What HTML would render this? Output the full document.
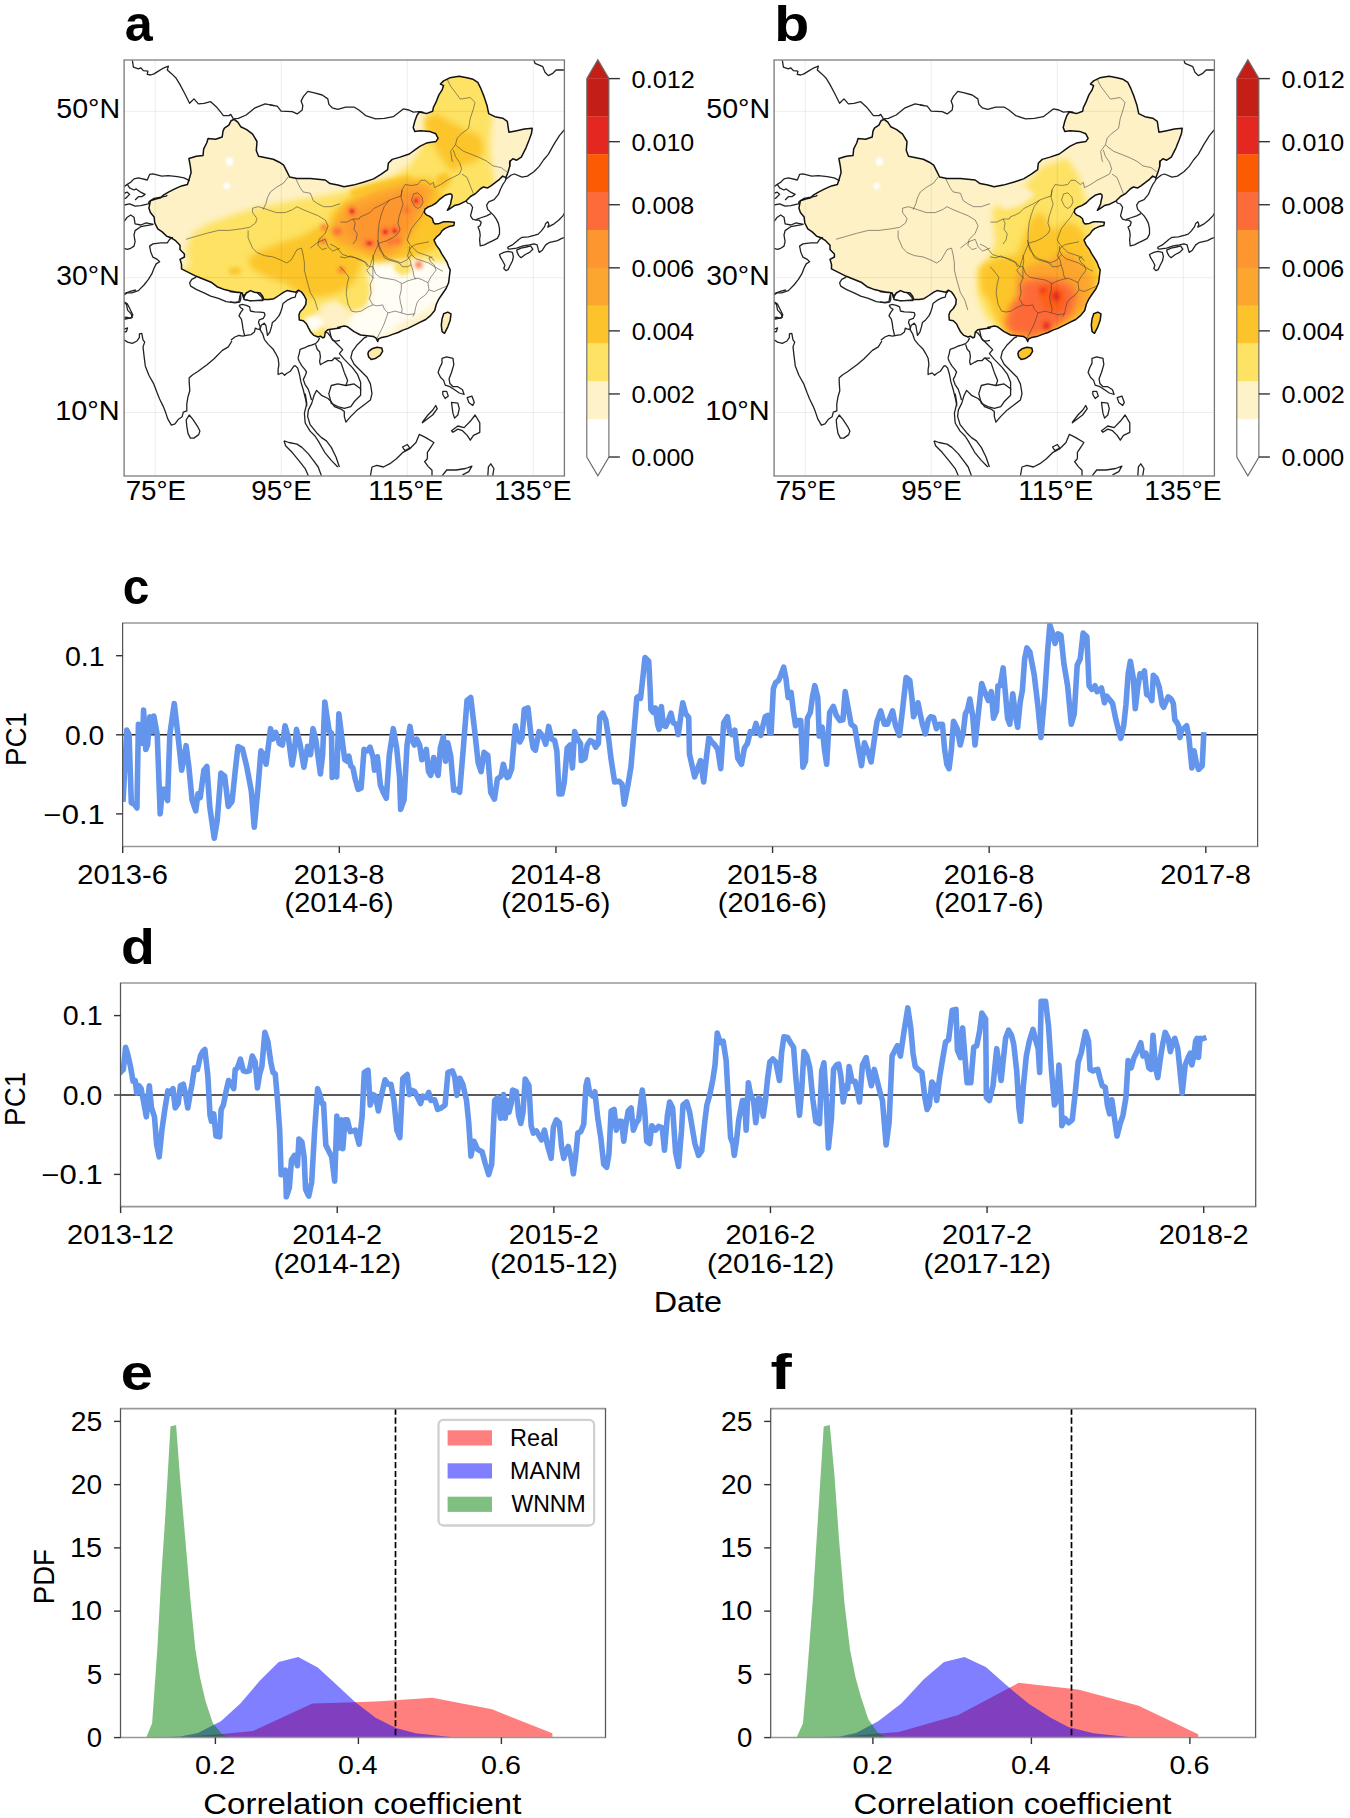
<!DOCTYPE html><html><head><meta charset="utf-8"><style>html,body{margin:0;padding:0;background:#fff}svg{display:block}text{font-family:"Liberation Sans",sans-serif}</style></head><body>
<svg width="1350" height="1818" viewBox="0 0 1350 1818">
<rect width="1350" height="1818" fill="#fff"/>
<defs><filter id="b1" x="-50%" y="-50%" width="200%" height="200%"><feGaussianBlur stdDeviation="1.2"/></filter><filter id="b2" x="-50%" y="-50%" width="200%" height="200%"><feGaussianBlur stdDeviation="2.2"/></filter><filter id="b3" x="-20%" y="-20%" width="140%" height="140%"><feGaussianBlur stdDeviation="3"/></filter></defs>
<text transform="matrix(0.99,0,0,1,124.63,41)" font-size="50.74" font-weight="bold">a</text>
<text transform="matrix(1.14,0,0,1,774.33,41.01)" font-size="50.25" font-weight="bold">b</text>
<text transform="matrix(0.95,0,0,1,122.83,604.11)" font-size="50.38" font-weight="bold">c</text>
<text transform="matrix(1.09,0,0,1,120.92,963.9)" font-size="50.79" font-weight="bold">d</text>
<text transform="matrix(1.14,0,0,1,120.64,1389.7)" font-size="50.74" font-weight="bold">e</text>
<text transform="matrix(1.28,0,0,1,770.51,1389.1)" font-size="49.96" font-weight="bold">f</text>
<g>
<clipPath id="clipa"><rect x="124.1" y="59.9" width="440.3" height="416.1"/></clipPath>
<g clip-path="url(#clipa)">
<clipPath id="chinaa"><path d="M234.1,119.3 L237.8,122.2 L240.7,126.7 L246.7,129.6 L252.6,134.1 L257,141.5 L256.3,150.4 L258.5,156.3 L265.9,157.8 L273.3,159.3 L279.3,162.2 L283.7,165.2 L286.7,171.1 L289.6,177 L297,178.5 L310.4,178.5 L325.2,180 L330,183.6 L337.8,185.1 L344,186.7 L353.3,185.1 L364.2,182 L373.6,178.9 L381.3,174.2 L387.6,169.6 L388.3,163.3 L392.2,159.4 L400,157.1 L409.3,154 L415.6,149.3 L420.2,146.2 L426.4,143.1 L435.8,141.6 L438.1,138.4 L435.8,133.8 L429.6,131.4 L420.2,130.7 L414.8,131.4 L413.2,127.6 L414.8,121.3 L417.1,115.1 L419.4,112 L426.4,113.6 L432.7,111.2 L433.4,107.3 L435.8,102.7 L438.9,94.9 L442,90.2 L443.6,85.6 L440.4,84 L443.6,80.9 L449.8,77.8 L459.1,76.2 L466.9,77.8 L473.1,79.3 L477.8,82.4 L480.9,88.7 L484,96.4 L487.1,105.8 L488.7,113.6 L494.9,116.7 L502.7,118.2 L507.3,121.3 L508.9,132.2 L516.7,130.7 L524.4,129.1 L532.2,128.3 L531.4,133.8 L529.1,140 L526,147.8 L521.3,157.1 L516.7,160.2 L512.8,158.7 L509.7,161.8 L509.7,166.4 L508.1,171.8 L505.9,177.7 L502.7,176.1 L499.5,179.3 L495.2,182.6 L490.9,185.8 L487.7,187.9 L483.4,186.9 L480.2,189 L475.9,193.3 L470.5,196.5 L466.2,200.8 L458.7,204.6 L454.4,205.6 L451.1,207.8 L447.4,210.3 L449,207.3 L450.6,204 L451.1,200.8 L452.2,196.5 L451.7,194.4 L450.1,193.8 L445.8,194.9 L442.6,197.1 L439.3,199.7 L436.1,203 L431.8,205.6 L427.5,207.3 L424.8,209.4 L424.3,212.6 L426.4,214.8 L429.7,216.4 L432.4,218.5 L433.4,222.3 L435,223.9 L439.3,223.4 L443.6,221.8 L449,221.8 L454.4,222.3 L453.8,225.5 L449,226.6 L444.7,228.7 L442,230.9 L439.9,234.1 L437.2,236.3 L434,240 L436.1,244.9 L439.3,249.2 L441.5,253.4 L444.2,257.7 L446.9,262 L448.5,266.3 L450.2,269.8 L449.4,276.3 L448.6,282.8 L446.1,288.5 L442.1,294.2 L438.8,299.1 L436.4,304 L434.7,310.5 L430.7,315.4 L425.8,319.5 L419.3,322.7 L414.4,325.2 L407.9,328.4 L403,330.1 L398.1,332.5 L393.2,334.1 L386.7,336.6 L381.8,337.4 L378.5,339 L377.7,341.5 L376.1,338.2 L373.6,336.6 L367.1,335.8 L360.6,335 L354.1,331.7 L347.6,326.8 L344.3,326 L337.8,327.6 L340,328.1 L332.7,328.9 L327.8,329.7 L325.3,332.1 L324.5,337 L322.9,337.9 L320.4,336.2 L318,337 L313.9,335.4 L310.7,332.1 L308.2,327.3 L306.6,324 L303.3,320.7 L299.3,319.9 L298.9,315 L300.1,311.8 L303.3,308.5 L305.8,304.4 L306.2,299.6 L304.1,295.5 L301.7,292.2 L298.4,290.2 L296,292.2 L291.9,291.4 L287,290.6 L283.8,292.2 L278.9,295.5 L274,298.7 L269.1,299.6 L263.8,299.6 L262.6,296.3 L260.1,293 L254.4,292.2 L250.4,290.6 L246.3,293 L243.4,297.5 L242.2,293 L238.1,292.2 L230,291.4 L237.8,292.6 L230.4,291.1 L224.4,289.6 L217,286.7 L211.1,282.2 L203.7,279.3 L196.3,276.3 L187.4,271.9 L181.5,268.9 L181.5,264.4 L180,259.3 L184.4,257 L184.4,254.1 L180,249.6 L180,245.2 L175.6,240.7 L171.1,237.8 L166.7,236.3 L162.2,231.9 L157.8,228.9 L154.8,223 L154.1,217 L150.4,212.6 L148.9,208.1 L150.4,200.7 L154.8,199.3 L160.7,197.8 L163.7,194.8 L168.9,191.9 L174.8,188.9 L181.5,185.9 L187.4,184.4 L188.9,180 L191.1,172.6 L190.4,166.7 L188.9,158.5 L196.3,156.3 L203,155.6 L203.7,148.9 L206.7,143 L208.1,138.5 L215.6,139.3 L222.2,137 L223,131.1 L224.4,128.1 L228.9,125.2 L231.1,120.7Z M368.7,351.3 L372,348.8 L376.9,347.2 L381.8,348 L382.6,351.3 L380.1,355.3 L375.3,358.6 L371.2,359.4 L368.7,357 L367.9,353.7Z M443.7,313.8 L447.8,312.1 L451,313.8 L450.2,320.3 L447.8,326.8 L444.5,333.3 L442.1,331.7 L441.3,325.2 L442.1,318.7Z"/></clipPath>
<g clip-path="url(#chinaa)"><rect x="124" y="60" width="441" height="416" fill="#fef1c6"/>
<ellipse cx="229.5" cy="161.5" rx="3.6" ry="4.2" fill="#ffffff" filter="url(#b1)"/>
<ellipse cx="226.7" cy="185.9" rx="3.2" ry="3.4" fill="#ffffff" filter="url(#b1)"/>
<path d="M190,266 L186,250 L192,234 L206.7,224.5 L228.9,216.3 L251.1,208.9 L273.3,204.4 L295.6,200 L317.8,197 L340,192.6 L365,185 L390,178 L410,165 L420,150 L425,125 L432,100 L440,55 L495,52 L495,95 L492,120 L490,145 L492,165 L495,185 L480,198 L468,212 L465,240 L465,262 L440,268 L420,262 L400,262 L385,268 L375,285 L368,300 L365,320 L358,348 L320,348 L300,328 L290,315 L270,308 L240,305 L210,300 L175,292 L160,272Z" fill="#fde264" filter="url(#b3)"/>
<path d="M372,262 L395,256 L415,258 L432,262 L450,262 L458,272 L455,290 L440,302 L420,314 L400,324 L385,336 L360,340 L345,338 L342,320 L352,312 L368,306 L372,290 L368,275Z" fill="#fffdf4" filter="url(#b3)"/>
<path d="M320,305 L335,300 L348,305 L350,320 L340,332 L325,330 L318,318Z" fill="#fef1c6" filter="url(#b3)"/>
<path d="M340,290 L360,288 L368,296 L362,306 L348,308 L338,300Z" fill="#fde264" filter="url(#b2)"/>
<path d="M395,262 L410,260 L412,272 L402,276 L394,270Z" fill="#fde264" filter="url(#b2)"/>
<path d="M305,318 L318,314 L325,324 L315,332 L304,328Z" fill="#fffdf4" filter="url(#b2)"/>
<path d="M248,258 L261.5,250.4 L280.7,243 L303,235.6 L317.8,226.7 L340,223.7 L355,225 L360,240 L362,262 L355,280 L345,290 L330,295 L310,298 L295,290 L285,283 L267,277 L251,268Z" fill="#fcc52a" filter="url(#b3)"/>
<path d="M330,215 L345,200 L365,192 L390,185 L410,178 L430,178 L440,188 L446,205 L452,222 L446,240 L432,250 L410,258 L390,262 L370,262 L355,255 L340,245 L330,232Z" fill="#fcc52a" filter="url(#b3)"/>
<path d="M423.7,119.3 L435.6,113.3 L449.8,121.6 L459.3,126.4 L466.4,131.1 L477,133.5 L483,143 L483,152.4 L477,160.7 L466.4,164.3 L459.3,166.7 L453.3,172.6 L447.4,166.7 L439.1,154.8 L433.2,143 L427.3,131.1Z" fill="#fcc52a" filter="url(#b3)"/>
<path d="M436,176 L446,172 L452,180 L444,190 L436,186Z" fill="#fcc52a" filter="url(#b2)"/>
<path d="M350,190 L370,184 L395,178 L410,175 L412,183 L395,188 L370,193 L352,198Z" fill="#fcc52a" filter="url(#b2)"/>
<path d="M229,268 L240,267 L241,274 L230,275Z" fill="#fcc52a" filter="url(#b2)"/>
<path d="M333,224.7 L344,206 L360,198 L380,190 L400,184.7 L413,182 L426.7,184.7 L434.7,190 L426.7,206 L420,219.3 L410.7,235.3 L400,251.3 L386.7,256.7 L373.3,255.3 L360,251.3 L346.7,246 L336,240.7 L330.7,232.7Z" fill="#fca62f" filter="url(#b3)"/>
<path d="M345,225 L355,212 L370,204 L390,196 L410,190 L422,192 L418,208 L410,225 L400,240 L388,248 L372,248 L358,242 L348,235Z" fill="#fd962f" filter="url(#b3)"/>
<ellipse cx="352" cy="211.3" rx="4" ry="5" fill="#fd6b38" filter="url(#b2)"/>
<ellipse cx="337.3" cy="231.3" rx="4.5" ry="3.5" fill="#fd6b38" filter="url(#b2)"/>
<ellipse cx="324" cy="227.3" rx="3" ry="3" fill="#fd6b38" filter="url(#b2)"/>
<ellipse cx="369.3" cy="243.3" rx="6" ry="3.5" fill="#fd6b38" filter="url(#b2)"/>
<ellipse cx="385.3" cy="231.3" rx="5" ry="4" fill="#fd6b38" filter="url(#b2)"/>
<ellipse cx="394.7" cy="230" rx="4" ry="4" fill="#fd6b38" filter="url(#b2)"/>
<ellipse cx="397.3" cy="240.7" rx="4" ry="3" fill="#fd6b38" filter="url(#b2)"/>
<ellipse cx="390.7" cy="242" rx="3" ry="3" fill="#fd6b38" filter="url(#b2)"/>
<ellipse cx="406.7" cy="210" rx="3" ry="3" fill="#fd6b38" filter="url(#b2)"/>
<ellipse cx="417.3" cy="200.7" rx="4" ry="5" fill="#fd6b38" filter="url(#b2)"/>
<ellipse cx="418.7" cy="264.7" rx="3.5" ry="3.5" fill="#fd6b38" filter="url(#b2)"/>
<ellipse cx="341.3" cy="270" rx="3" ry="3" fill="#fd6b38" filter="url(#b2)"/>
<ellipse cx="323" cy="241" rx="3" ry="3" fill="#fd6b38" filter="url(#b2)"/>
<ellipse cx="385.3" cy="232" rx="2" ry="2" fill="#e42821" filter="url(#b1)"/>
<ellipse cx="394.7" cy="231" rx="2" ry="2" fill="#e42821" filter="url(#b1)"/>
<ellipse cx="369.3" cy="243.3" rx="2.2" ry="1.8" fill="#e42821" filter="url(#b1)"/>
<ellipse cx="352" cy="211.3" rx="1.8" ry="2" fill="#e42821" filter="url(#b1)"/>
<ellipse cx="416" cy="200.7" rx="1.8" ry="2" fill="#e42821" filter="url(#b1)"/>
<path d="M441.5,305 L460,305 L460,340 L441.5,340Z" fill="#fdeeb8"/>
<path d="M362,345.5 L390,345.5 L390,365 L362,365Z" fill="#fdeaa8"/></g>
<path d="M340.4,222.1 L346.7,222.1 L353,219 L359.3,219 L360.3,216.9 L365.5,214.8 L369.7,212.7 L373.9,208.5 L378.1,206.4 L384.3,203.3 L389.6,200.1 L394.8,198.1 L401,196 L402.1,189.7 L405.2,184.5 L411.5,185.5 L417.8,184.5 L420.9,180.3 L425.1,180.3 L430.3,184.5 L433.4,182.4 L434.5,187.6 L440.7,184.5 L447,180.3 L453.3,177.2 L459.6,174 L461.6,168.8 L459.6,162.5 L455.4,156.3 L453.3,150" fill="none" stroke="#3a3a3a" stroke-opacity="0.62" stroke-width="0.9"/>
<path d="M353,219 L355.1,223.1 L354,229.4 L357.2,233.6 L356.1,239.9 L353,244" fill="none" stroke="#3a3a3a" stroke-opacity="0.62" stroke-width="0.9"/>
<path d="M389.6,200.1 L384.3,206.4 L381.2,214.8 L379.1,223.1 L378.1,233.6 L378.1,244 L380.1,250.3 L384.3,255.5" fill="none" stroke="#3a3a3a" stroke-opacity="0.62" stroke-width="0.9"/>
<path d="M402.1,189.7 L401,197 L403.1,204.3 L401,210.6 L399,216.9 L397.9,223.1 L400,229.4 L397.9,233.6 L392.7,237.8 L386.4,240.9 L379.1,243" fill="none" stroke="#3a3a3a" stroke-opacity="0.62" stroke-width="0.9"/>
<path d="M411.5,200.1 L413.6,193.9 L417.8,192.8 L421.9,197 L423,202.2 L420.9,206.4 L417.8,208.5 L414.6,206.4 L411.5,200.1" fill="none" stroke="#3a3a3a" stroke-opacity="0.62" stroke-width="0.9"/>
<path d="M424,210.6 L420.9,216.9 L415.7,223.1 L411.5,228.4 L409.4,233.6 L407.3,239.9 L409.4,244 L413.6,248.2 L417.8,252.4 L424,254.5 L430.3,256.6 L434.5,260.7" fill="none" stroke="#3a3a3a" stroke-opacity="0.62" stroke-width="0.9"/>
<path d="M384.3,255.5 L388.5,258.7 L394.8,260.7 L401,262.8 L407.3,259.7 L411.5,254.5 L409.4,250.3 L409.4,246.1" fill="none" stroke="#3a3a3a" stroke-opacity="0.62" stroke-width="0.9"/>
<path d="M379.1,243 L376,249.3 L373.9,254.5 L371.8,260.7 L369.7,267 L366.6,270.1 L369.7,274.3 L373.9,278.5" fill="none" stroke="#3a3a3a" stroke-opacity="0.62" stroke-width="0.9"/>
<path d="M330,244 L336.3,247.2 L342.5,254.5 L348.8,256.6 L355.1,257.6 L361.3,259.7 L365.5,262.8 L367.6,267" fill="none" stroke="#3a3a3a" stroke-opacity="0.62" stroke-width="0.9"/>
<path d="M411.5,254.5 L415.7,258.7 L421.9,260.7 L428.2,262.8 L433.4,266 L438.7,269.1 L442.8,271.2" fill="none" stroke="#3a3a3a" stroke-opacity="0.62" stroke-width="0.9"/>
<path d="M288.1,177 L283.7,183 L276.3,187.4 L270.4,191.9 L267.4,197.8 L265.9,203.7 L263,209.6" fill="none" stroke="#3a3a3a" stroke-opacity="0.62" stroke-width="0.9"/>
<path d="M295.6,178.5 L300,187.4 L303,191.9 L310.4,193.3 L313.3,200.7 L317.8,203.7 L323.7,206.7 L331.1,206.7 L340,203.7" fill="none" stroke="#3a3a3a" stroke-opacity="0.62" stroke-width="0.9"/>
<path d="M185.9,239.3 L196.3,236.3 L206.7,233.3 L218.5,230.4 L228.9,230.4 L240.7,228.9 L249.6,227.4 L255.6,223 L257,218.5 L252.6,212.6 L252.6,208.1 L258.5,206.7 L267.4,209.6 L276.3,212.6 L285.2,212.6 L292.6,209.6 L297,206.7 L303,209.6 L310.4,212.6 L317.8,215.6 L325.2,220 L328.1,225.9 L325.2,233.3 L319.3,239.3 L317.8,245.2 L322.2,249.6 L326.7,248.1" fill="none" stroke="#3a3a3a" stroke-opacity="0.62" stroke-width="0.9"/>
<path d="M248.1,230.4 L248.1,237.8 L252.6,248.1 L257,252.6 L264.4,255.6 L273.3,257 L280.7,260 L286.7,263 L291.1,260 L297,249.6 L301.5,248.1 L303,254.1 L304.4,263 L304.4,270.4 L307.4,282.2 L310.4,292.6 L314.8,300 L317.8,310.1" fill="none" stroke="#3a3a3a" stroke-opacity="0.62" stroke-width="0.9"/>
<path d="M310.4,248.1 L317.8,242.2 L325.2,239.3 L328.1,246.7 L332.6,251.1 L340,248.1" fill="none" stroke="#3a3a3a" stroke-opacity="0.62" stroke-width="0.9"/>
<path d="M447.3,79.6 L450.6,86.1 L455.5,92.6 L460.4,99.1 L470.2,97.5 L475,102.4 L473.4,108.9 L470.2,118.7 L468.5,128.4 L462,133.3 L457.1,138.2 L455.5,144.7 L450.6,151.3 L452.2,161 L453.3,162" fill="none" stroke="#3a3a3a" stroke-opacity="0.62" stroke-width="0.9"/>
<path d="M455.5,144.7 L457.1,146.4 L463.6,151.3 L471.8,154.5 L479.9,157.8 L486.5,161 L493,165.9 L501.1,167.6 L507.6,172.5" fill="none" stroke="#3a3a3a" stroke-opacity="0.62" stroke-width="0.9"/>
<path d="M462,174.1 L466.9,177.3 L470.2,185.5 L473.4,193.6" fill="none" stroke="#3a3a3a" stroke-opacity="0.62" stroke-width="0.9"/>
<path d="M377.3,240 L379.1,245.3 L381.8,251.6 L384.4,257.8 L389.8,260.4 L396.9,262.2 L400.4,264 L402.2,266.7 L407.6,266.7 L411.1,264.9 L410.2,260.4 L407.6,256 L409.3,250.7 L411.1,247.1 L415.6,244.4 L420,243.6 L424.4,242.7 L428.9,241.8" fill="none" stroke="#3a3a3a" stroke-opacity="0.62" stroke-width="0.9"/>
<path d="M411.1,264.9 L412.9,270.2 L413.8,275.6 L415.6,279.1" fill="none" stroke="#3a3a3a" stroke-opacity="0.62" stroke-width="0.9"/>
<path d="M372.9,255.1 L373.8,260.4 L372.9,266.7 L375.6,273.8 L380,277.3 L384.4,278.2 L389.8,279.1 L395.1,280 L398.7,281.8 L402.2,283.6 L407.6,280.9 L413.8,279.1 L418.2,278.2 L422.7,280 L428,282.7" fill="none" stroke="#3a3a3a" stroke-opacity="0.62" stroke-width="0.9"/>
<path d="M401.3,283.6 L401.3,289.8 L399.6,296.9 L400.4,302.2 L402.2,309.3 L401.3,312.9" fill="none" stroke="#3a3a3a" stroke-opacity="0.62" stroke-width="0.9"/>
<path d="M428,282.7 L428.9,289.8 L425.3,295.1 L420,298.7 L417.3,302.2 L415.6,307.6 L414.7,312.9 L412.9,316.4" fill="none" stroke="#3a3a3a" stroke-opacity="0.62" stroke-width="0.9"/>
<path d="M428.9,289.8 L434.2,291.6 L437.8,289.8 L442.2,288 L446.7,286.2" fill="none" stroke="#3a3a3a" stroke-opacity="0.62" stroke-width="0.9"/>
<path d="M428,282.7 L430.7,277.3 L433.3,273.8 L436,270.2 L434.2,264.9 L430.7,262.2 L428.9,257.8 L432.4,256.9" fill="none" stroke="#3a3a3a" stroke-opacity="0.62" stroke-width="0.9"/>
<path d="M372.9,304.9 L377.3,305.8 L382.7,304.9 L384.4,309.3 L388,312.9 L391.6,312 L395.1,311.1 L401.3,312.9 L407.6,314.7 L414.7,313.8" fill="none" stroke="#3a3a3a" stroke-opacity="0.62" stroke-width="0.9"/>
<path d="M388,312.9 L386.2,318.2 L383.6,325.3 L380.9,330.7 L378.2,336 L376.4,340" fill="none" stroke="#3a3a3a" stroke-opacity="0.62" stroke-width="0.9"/>
<path d="M372.9,278.2 L370.2,284.4 L371.1,293.3 L369.3,298.7 L372.9,304.9" fill="none" stroke="#3a3a3a" stroke-opacity="0.62" stroke-width="0.9"/>
<path d="M372.9,304.9 L366.7,307.6 L361.3,311.1 L356,312 L351.6,311.1" fill="none" stroke="#3a3a3a" stroke-opacity="0.62" stroke-width="0.9"/>
<path d="M340,256.9 L345.3,257.8 L350.7,256 L355.1,257.8 L360.4,260.4 L365.8,262.2 L369.3,266.7 L372.9,266.7 L372.9,278.2" fill="none" stroke="#3a3a3a" stroke-opacity="0.62" stroke-width="0.9"/>
<path d="M351.6,311.1 L348,304 L346.2,293.3 L347.1,284.4 L348.9,277.3 L346.2,273.8 L342.7,269.3 L340,266.7" fill="none" stroke="#3a3a3a" stroke-opacity="0.62" stroke-width="0.9"/>
<path d="M132.3,60 L133.4,67.2 L138.4,68.9 L140.7,67.8 L143.4,70.6 L147.9,71.1 L147.3,74.4 L150.7,75 L154,73.9 L158.4,71.1 L164,67.8 L168.4,66.1 L167.3,70 L171.8,73.9 L176.2,78.3 L179.6,83.9 L184.6,93.3 L189.6,103.3 L194,98.9 L198.4,103.9 L204,103.3 L210.7,101.7 L216.2,106.7 L220.7,112.2 L223.4,115.6 L229,115.6 L230.7,114.4 L233.4,118.9" fill="none" stroke="#222" stroke-width="1.3" stroke-linejoin="round"/>
<path d="M234,118.9 L238.4,118.3 L246.2,115 L255.1,107.8 L265.1,103.9 L274,105.6" fill="none" stroke="#222" stroke-width="1.3" stroke-linejoin="round"/>
<path d="M189.6,180.6 L184,177.8 L177.3,176.7 L168.4,175.6 L161.8,176.1 L152.9,173.9 L149.6,174.4 L147.3,180 L138.4,177.8 L134,178.9 L130.7,182.2 L127.3,184.4 L124,186.7" fill="none" stroke="#222" stroke-width="1.3" stroke-linejoin="round"/>
<path d="M127.3,184.4 L129.6,187.8 L134,190 L136.2,188.9 L140.7,192.2 L145.1,194.4 L141.8,196.7 L138.4,196.7 L135.1,200" fill="none" stroke="#222" stroke-width="1.3" stroke-linejoin="round"/>
<path d="M124,193.3 L127.3,192.2 L129.6,194.4 L126.2,197.8 L124,198.9" fill="none" stroke="#222" stroke-width="1.3" stroke-linejoin="round"/>
<path d="M270,105 L277.2,106.1 L281.1,111.1 L292.2,111.7 L297.2,113.9 L302.2,110 L302.8,105.6 L301.1,101.1 L303.3,96.7 L307.8,91.3 L314.4,92.8 L322.2,95 L327.8,98.9 L328.9,104.4 L332.2,107.8 L337.8,109.4 L345.6,107.2 L354.4,107.2 L358.9,110 L365.6,115.6 L375.6,118.9 L384.4,118.3 L393.3,116.7 L397.8,113.3 L403.3,108.9 L408.9,110 L413.3,112.2 L418.9,111.7 L423.3,112.2" fill="none" stroke="#222" stroke-width="1.3" stroke-linejoin="round"/>
<path d="M533.9,60 L535,63.3 L542.8,66.7 L545,72.2 L548.3,75.6 L552.8,73.3 L556.1,70 L563.9,70" fill="none" stroke="#222" stroke-width="1.3" stroke-linejoin="round"/>
<path d="M124,205 L129.6,203.9 L135.1,206.1 L140.7,205.6 L148.4,203.9 L149,201.7 L154,198.3 L160.7,197.2 L166.2,196.1 L167.3,195" fill="none" stroke="#222" stroke-width="1.3" stroke-linejoin="round"/>
<path d="M124,221.7 L127.3,217.2 L130.7,215 L134,217.2 L135.1,223.9 L140.7,225 L146.2,222.8 L153.4,224.4" fill="none" stroke="#222" stroke-width="1.3" stroke-linejoin="round"/>
<path d="M153.4,224.4 L140.7,226.7 L135.1,230.6 L134,235 L135.1,241.7 L134,246.1 L130.7,248.3 L127.3,249.4 L124,248.3" fill="none" stroke="#222" stroke-width="1.3" stroke-linejoin="round"/>
<path d="M172.9,237.2 L169.6,239.4 L167.3,242.8 L160.7,242.8 L152.9,243.9 L149.6,246.1 L150.7,251.7 L152.9,257.2 L157.3,259.4 L159.6,261.7 L156.2,263.9 L154,268.3 L151.8,273.9 L148.4,279.4 L144,285 L138.4,290.6 L131.8,292.8 L127.3,292.8 L124,295" fill="none" stroke="#222" stroke-width="1.3" stroke-linejoin="round"/>
<path d="M124,301.7 L127.3,303.9 L129.6,308.3 L132.9,315 L130.7,318.3 L126.2,317.2 L124,318.3" fill="none" stroke="#222" stroke-width="1.3" stroke-linejoin="round"/>
<path d="M196.2,277.2 L191.8,279.4 L189.6,282.8 L190.7,286.1 L196.2,289.4 L204,292.8 L210.7,296.1 L218.4,298.3 L226.2,301.7 L235.1,302.8 L239.6,302.2 L240.7,299.4 L240.7,292.8" fill="none" stroke="#222" stroke-width="1.3" stroke-linejoin="round"/>
<path d="M244,293.9 L244,299.4 L249.6,300.6 L262.9,300.6 L261.8,297.2 L257.3,292.8" fill="none" stroke="#222" stroke-width="1.3" stroke-linejoin="round"/>
<path d="M124,339.8 L127.6,342.1 L132.3,343.3 L137,341 L139.4,337.4 L139.4,333.9 L141.8,333.3 L143,339.8 L144.7,342.1 L143,346.9 L144.1,356.4 L145.3,365.9 L148.9,375.3 L153.6,383.6 L157.2,393.1 L159.6,399 L163.1,406.1 L165.5,412.1 L167.9,419.2 L171.4,425.1 L175,423.9 L178.5,419.2 L182.1,416.8 L183.3,412.1 L186.8,410.9 L186.8,403.8 L188,396.7 L189.8,390.7 L189.2,382.4 L189.2,377.7 L192.7,374.7 L197.5,371.8 L202.2,368.2 L207,364.7 L214.1,358.7 L222.4,350.4 L228.3,346.9 L231.9,341" fill="none" stroke="#222" stroke-width="1.3" stroke-linejoin="round"/>
<path d="M189.2,415 L192.7,419.2 L197.5,426.3 L199.9,431 L198.7,434.6 L193.9,438.1 L190.4,438.1 L188,433.4 L186.8,426.3 L186.2,419.8Z" fill="none" stroke="#222" stroke-width="1.3" stroke-linejoin="round"/>
<path d="M124,293.6 L127.6,292.4 L131.1,291.2 L135.9,290" fill="none" stroke="#222" stroke-width="1.3" stroke-linejoin="round"/>
<path d="M124,303 L126.4,304.2 L127.6,310.1 L131.1,313.7 L132.3,317.3 L128.7,318.4 L125.2,319 L124,319" fill="none" stroke="#222" stroke-width="1.3" stroke-linejoin="round"/>
<path d="M124,329.1 L127.6,327.9 L126.4,331.5 L124,332.1" fill="none" stroke="#222" stroke-width="1.3" stroke-linejoin="round"/>
<path d="M367.1,336.6 L363.9,338.2 L357.3,344.7 L352.4,351.3 L350.8,357.8 L354.1,364.3 L360.6,370.8 L367.1,377.3 L370.4,383.9 L372,393.6 L370.4,400.1 L363.9,405 L357.3,409.9 L350.8,416.4 L345.9,422.1 L344.3,416.4 L344.3,411.6 L341,409.1 L334.5,406.7 L331.3,401.8 L328,398.5 L321.5,395.3 L316.6,390.4 L314.1,395.3 L311.7,403.4 L308.4,409.9 L307.6,416.4 L310.1,424.6 L316.6,432.7 L321.5,437.6 L326.4,440.9 L331.3,447.4 L336.1,457.2 L339.4,467" fill="none" stroke="#222" stroke-width="1.3" stroke-linejoin="round"/>
<path d="M329.6,330.1 L331.3,338.2 L337.8,344.7 L342.7,349.6 L339.4,353.7 L344.3,359.4 L352.4,367.6 L357.3,374.1 L360.6,382.2 L360.6,390.4" fill="none" stroke="#222" stroke-width="1.3" stroke-linejoin="round"/>
<path d="M331.3,385.5 L337.8,383.9 L345.9,385.5 L354.1,383.9 L360.6,388.7 L360.6,395.3 L354.1,401.8 L350.8,406.7 L344.3,408.3 L337.8,406.7 L331.3,403.4 L328.8,393.6Z" fill="none" stroke="#222" stroke-width="1.3" stroke-linejoin="round"/>
<path d="M284,440.9 L288.9,442.5 L297,444.1 L301.9,447.4 L308.4,453.9 L313.3,460.4 L318.2,467 L321.5,475.9" fill="none" stroke="#222" stroke-width="1.3" stroke-linejoin="round"/>
<path d="M284,440.9 L285.6,445.8 L292.1,452.3 L298.7,460.4 L305.2,468.6 L308.4,475.9" fill="none" stroke="#222" stroke-width="1.3" stroke-linejoin="round"/>
<path d="M305.2,393.6 L306.8,403.4 L304.4,413.2 L305.2,423 L310.1,431.1 L315,436 L318.2,440.9 L324.7,452.3 L331.3,460.4 L337.8,467" fill="none" stroke="#222" stroke-width="1.3" stroke-linejoin="round"/>
<path d="M334.5,357.8 L341,362.7 L344.3,372.4 L347.6,380.6 L345.9,385.5" fill="none" stroke="#222" stroke-width="1.3" stroke-linejoin="round"/>
<path d="M370.4,475.9 L372,467 L376.9,465.3 L383.4,467 L389.9,463.7 L396.4,458.8 L403,452.3 L409.5,449 L416,442.5 L419.3,434.4 L425.8,437.6 L433.9,442.5 L430.7,447.4 L427.4,452.3 L427.4,458.8" fill="none" stroke="#222" stroke-width="1.3" stroke-linejoin="round"/>
<path d="M427.4,458.8 L424.6,461.7 L428.3,466.6 L432,470.3 L432,478" fill="none" stroke="#222" stroke-width="1.3" stroke-linejoin="round"/>
<path d="M402.5,447 L407.4,444.5 L409.8,448.2 L404.9,450.7Z" fill="none" stroke="#222" stroke-width="1.3" stroke-linejoin="round"/>
<path d="M442,358.3 L446.7,356.8 L453,358.3 L453.8,364.6 L451.5,372.5 L449.1,378.8 L449.9,383.5 L453,386.7 L457.8,386.7 L462.5,389.8 L464.1,394.5 L459.3,393 L454.6,389.8 L449.9,386.7 L445.2,385.1 L443.6,380.4 L440.5,377.2 L438.1,372.5 L439.7,367.8 L442,363.1Z" fill="none" stroke="#222" stroke-width="1.3" stroke-linejoin="round"/>
<path d="M442.8,391.4 L446.7,391.4 L448.3,396.1 L445.2,398.5 L442.8,394.5Z" fill="none" stroke="#222" stroke-width="1.3" stroke-linejoin="round"/>
<path d="M467.2,397.7 L471.9,396.1 L474.3,402.4 L472.7,405.5 L468.8,402.4Z" fill="none" stroke="#222" stroke-width="1.3" stroke-linejoin="round"/>
<path d="M451.5,402.4 L457.8,403.2 L459.3,408.7 L457.8,415 L454.6,418.1 L453,413.4 L452.3,408.7Z" fill="none" stroke="#222" stroke-width="1.3" stroke-linejoin="round"/>
<path d="M451.5,430.7 L457.8,426 L464.1,427.6 L470.3,421.3 L475.1,415 L479.8,422.8 L479.8,432.3 L473.5,435.4 L470.3,440.2 L467.2,435.4 L462.5,430.7 L457.8,429.1 L453,432.3Z" fill="none" stroke="#222" stroke-width="1.3" stroke-linejoin="round"/>
<path d="M422.4,422.1 L427.9,415 L432.6,410.3 L435.7,405.5 L437.3,408.7 L432.6,415 L426.3,419.7 L422.4,422.8Z" fill="none" stroke="#222" stroke-width="1.3" stroke-linejoin="round"/>
<path d="M440.5,477.9 L446.7,470 L456.2,470 L465.6,468.5 L471.9,466.1 L468.8,471.6 L462.5,474.8" fill="none" stroke="#222" stroke-width="1.3" stroke-linejoin="round"/>
<path d="M487.7,477.9 L488.4,466.9 L490.8,463.8 L493.9,468.5 L492.4,477.9" fill="none" stroke="#222" stroke-width="1.3" stroke-linejoin="round"/>
<path d="M243.4,297.5 L244.3,299.6 L250.4,300.8 L256.9,300.4 L263.4,300" fill="none" stroke="#222" stroke-width="1.3" stroke-linejoin="round"/>
<path d="M230,302 L234.9,302.4 L239,301.6 L239.8,296.3 L241,293 L242.2,293" fill="none" stroke="#222" stroke-width="1.3" stroke-linejoin="round"/>
<path d="M239,305.3 L242.2,304.4 L246.3,305.3 L249.6,306.9 L250.4,311 L254.4,311.8 L260.1,312.2 L264.2,312.6 L265,315 L263.4,318.3 L259.3,319.9 L258.5,322.4 L260.1,326.4 L260.1,329.7" fill="none" stroke="#222" stroke-width="1.3" stroke-linejoin="round"/>
<path d="M239,305.3 L240.6,307.7 L243,309.3 L240.6,312.6 L239,315.9 L241.4,319.1 L242.2,323.2 L243,328.9 L244.7,336.2" fill="none" stroke="#222" stroke-width="1.3" stroke-linejoin="round"/>
<path d="M230.8,340.3 L234.9,337 L239,335.4 L242.2,336.2 L246.3,335.4 L251.2,334.6 L254.4,332.1 L255.3,328.1 L256.9,328.9 L260.1,329.7 L262.6,333.8 L264.2,338.7 L265,340.3 L268.3,344.4 L273.2,349.3 L275.6,353.3 L278.1,358.2 L278.9,364.7 L278.1,369.6 L278.1,374.5 L282.1,372.9 L284.6,375.3 L286.2,373.7 L290.3,371.3 L293.6,366.4 L295.2,365.6 L297.6,368 L299.3,373.7 L300.9,381.9 L303.3,390 L305.8,400 L306.8,406.3" fill="none" stroke="#222" stroke-width="1.3" stroke-linejoin="round"/>
<path d="M260.1,329.7 L261,325.6 L264.2,323.2 L265.9,325.6 L266.7,330.5 L267.5,335.4 L269.9,332.1 L271.6,326.4 L272.4,322.4 L275.6,319.9 L278.9,315.9 L280.5,312.6 L282.1,307.7 L283,303.6 L287,300.4 L291.9,297.9 L295.2,297.1 L296,293.9 L298.4,290.6" fill="none" stroke="#222" stroke-width="1.3" stroke-linejoin="round"/>
<path d="M298,358.2 L299.3,361.5 L301.7,365.6 L305,369.6 L306.6,372.1 L305,376.1 L303.3,379.4 L305,384.3 L308.2,389.2 L309.9,394.1 L311.5,400" fill="none" stroke="#222" stroke-width="1.3" stroke-linejoin="round"/>
<path d="M298,358.2 L299.3,353.3 L300.1,349.3 L305,347.6 L308.2,346 L311.5,345.2 L315.6,343.6 L318,341.1 L319.6,337.9" fill="none" stroke="#222" stroke-width="1.3" stroke-linejoin="round"/>
<path d="M315.6,344.4 L317.2,349.3 L319.6,351.7 L320.4,356.6 L319.6,361.5 L320.4,364.7 L324.5,362.3 L327.8,360.7 L331.9,360.7 L334.3,358.2 L340,358.2" fill="none" stroke="#222" stroke-width="1.3" stroke-linejoin="round"/>
<path d="M325.3,332.1 L327.8,333 L331,337 L332.7,340.3 L335.9,341.1 L340,340.3" fill="none" stroke="#222" stroke-width="1.3" stroke-linejoin="round"/>
<path d="M510.2,160 L509.7,166.4" fill="none" stroke="#222" stroke-width="1.3" stroke-linejoin="round"/>
<path d="M505.9,179.3 L511.3,175 L514.5,174 L522,177.2 L527.4,176.1 L533.9,171.8 L539.2,166.4 L543.5,160 L548.3,154.4 L553.9,144.4 L559.4,135.6 L565,128.9" fill="none" stroke="#222" stroke-width="1.3" stroke-linejoin="round"/>
<path d="M466.2,200.8 L467.3,203 L470.5,204 L472.6,207.3 L471.6,211.6 L470.5,215.9 L472.6,219.1 L475.9,220.2 L479.1,220.2 L481.2,222.3 L480.2,225.5 L478,227.1 L479.6,230.9 L480.2,235.2 L479.6,239.5 L480.2,245.9 L484.4,244.9 L488.7,242.7 L493,240.6 L497.3,238.4 L499.5,234.1 L499.5,228.7 L498.4,223.4 L496.3,219.1 L494.1,215.9 L490.9,212.6 L487.7,209.4 L486.6,205.1 L488.7,201.9 L494.1,199.7 L498.4,194.4 L500.6,189 L502.7,184.7 L504.9,181.5 L505.9,179.3 L505.9,177.7" fill="none" stroke="#222" stroke-width="1.3" stroke-linejoin="round"/>
<path d="M475.9,219.6 L480.2,218 L486.6,215.9 L490.9,213.7" fill="none" stroke="#222" stroke-width="1.3" stroke-linejoin="round"/>
<path d="M507.5,248.1 L508.1,247 L512.4,244.9 L518.8,239.5 L522,237.3 L528.5,236.8 L534.9,235.2 L538.2,234.1 L541.4,230.9 L544.6,226.6 L545.7,223.4 L547.8,221.8 L548.9,224.4 L547.8,227.1 L553.2,224.4 L558.6,220.2 L562.9,215.9 L566,210.6" fill="none" stroke="#222" stroke-width="1.3" stroke-linejoin="round"/>
<path d="M507.5,248.1 L509.2,249.2 L516.7,248.1 L523.1,245.9 L529.6,244.9 L533.9,243.8 L537.1,244.9 L538.2,249.2 L539.2,252.4 L542.4,250.2 L545.7,244.9 L548.9,242.7 L553.2,241.6 L557.5,240.6 L561.8,238.4 L566,237.1" fill="none" stroke="#222" stroke-width="1.3" stroke-linejoin="round"/>
<path d="M516.7,250.2 L521,248.1 L526.3,247 L530.6,245.9 L532.8,249.2 L529.6,252.4 L525.3,254.5 L521,257.7 L518.8,255.6 L517.2,252.4Z" fill="none" stroke="#222" stroke-width="1.3" stroke-linejoin="round"/>
<path d="M499.5,254.5 L503.8,252.4 L508.1,251.3 L512.4,252.4 L513.4,256.7 L512.4,261 L510.2,265.3 L508.1,269.6 L505.9,270.6 L503.8,268.5 L504.9,265.3 L502.7,261 L500.6,257.7Z" fill="none" stroke="#222" stroke-width="1.3" stroke-linejoin="round"/>
<path d="M234.1,119.3 L237.8,122.2 L240.7,126.7 L246.7,129.6 L252.6,134.1 L257,141.5 L256.3,150.4 L258.5,156.3 L265.9,157.8 L273.3,159.3 L279.3,162.2 L283.7,165.2 L286.7,171.1 L289.6,177 L297,178.5 L310.4,178.5 L325.2,180 L330,183.6 L337.8,185.1 L344,186.7 L353.3,185.1 L364.2,182 L373.6,178.9 L381.3,174.2 L387.6,169.6 L388.3,163.3 L392.2,159.4 L400,157.1 L409.3,154 L415.6,149.3 L420.2,146.2 L426.4,143.1 L435.8,141.6 L438.1,138.4 L435.8,133.8 L429.6,131.4 L420.2,130.7 L414.8,131.4 L413.2,127.6 L414.8,121.3 L417.1,115.1 L419.4,112 L426.4,113.6 L432.7,111.2 L433.4,107.3 L435.8,102.7 L438.9,94.9 L442,90.2 L443.6,85.6 L440.4,84 L443.6,80.9 L449.8,77.8 L459.1,76.2 L466.9,77.8 L473.1,79.3 L477.8,82.4 L480.9,88.7 L484,96.4 L487.1,105.8 L488.7,113.6 L494.9,116.7 L502.7,118.2 L507.3,121.3 L508.9,132.2 L516.7,130.7 L524.4,129.1 L532.2,128.3 L531.4,133.8 L529.1,140 L526,147.8 L521.3,157.1 L516.7,160.2 L512.8,158.7 L509.7,161.8 L509.7,166.4 L508.1,171.8 L505.9,177.7 L502.7,176.1 L499.5,179.3 L495.2,182.6 L490.9,185.8 L487.7,187.9 L483.4,186.9 L480.2,189 L475.9,193.3 L470.5,196.5 L466.2,200.8 L458.7,204.6 L454.4,205.6 L451.1,207.8 L447.4,210.3 L449,207.3 L450.6,204 L451.1,200.8 L452.2,196.5 L451.7,194.4 L450.1,193.8 L445.8,194.9 L442.6,197.1 L439.3,199.7 L436.1,203 L431.8,205.6 L427.5,207.3 L424.8,209.4 L424.3,212.6 L426.4,214.8 L429.7,216.4 L432.4,218.5 L433.4,222.3 L435,223.9 L439.3,223.4 L443.6,221.8 L449,221.8 L454.4,222.3 L453.8,225.5 L449,226.6 L444.7,228.7 L442,230.9 L439.9,234.1 L437.2,236.3 L434,240 L436.1,244.9 L439.3,249.2 L441.5,253.4 L444.2,257.7 L446.9,262 L448.5,266.3 L450.2,269.8 L449.4,276.3 L448.6,282.8 L446.1,288.5 L442.1,294.2 L438.8,299.1 L436.4,304 L434.7,310.5 L430.7,315.4 L425.8,319.5 L419.3,322.7 L414.4,325.2 L407.9,328.4 L403,330.1 L398.1,332.5 L393.2,334.1 L386.7,336.6 L381.8,337.4 L378.5,339 L377.7,341.5 L376.1,338.2 L373.6,336.6 L367.1,335.8 L360.6,335 L354.1,331.7 L347.6,326.8 L344.3,326 L337.8,327.6 L340,328.1 L332.7,328.9 L327.8,329.7 L325.3,332.1 L324.5,337 L322.9,337.9 L320.4,336.2 L318,337 L313.9,335.4 L310.7,332.1 L308.2,327.3 L306.6,324 L303.3,320.7 L299.3,319.9 L298.9,315 L300.1,311.8 L303.3,308.5 L305.8,304.4 L306.2,299.6 L304.1,295.5 L301.7,292.2 L298.4,290.2 L296,292.2 L291.9,291.4 L287,290.6 L283.8,292.2 L278.9,295.5 L274,298.7 L269.1,299.6 L263.8,299.6 L262.6,296.3 L260.1,293 L254.4,292.2 L250.4,290.6 L246.3,293 L243.4,297.5 L242.2,293 L238.1,292.2 L230,291.4 L237.8,292.6 L230.4,291.1 L224.4,289.6 L217,286.7 L211.1,282.2 L203.7,279.3 L196.3,276.3 L187.4,271.9 L181.5,268.9 L181.5,264.4 L180,259.3 L184.4,257 L184.4,254.1 L180,249.6 L180,245.2 L175.6,240.7 L171.1,237.8 L166.7,236.3 L162.2,231.9 L157.8,228.9 L154.8,223 L154.1,217 L150.4,212.6 L148.9,208.1 L150.4,200.7 L154.8,199.3 L160.7,197.8 L163.7,194.8 L168.9,191.9 L174.8,188.9 L181.5,185.9 L187.4,184.4 L188.9,180 L191.1,172.6 L190.4,166.7 L188.9,158.5 L196.3,156.3 L203,155.6 L203.7,148.9 L206.7,143 L208.1,138.5 L215.6,139.3 L222.2,137 L223,131.1 L224.4,128.1 L228.9,125.2 L231.1,120.7Z" fill="none" stroke="#111" stroke-width="1.5" stroke-linejoin="round"/>
<path d="M368.7,351.3 L372,348.8 L376.9,347.2 L381.8,348 L382.6,351.3 L380.1,355.3 L375.3,358.6 L371.2,359.4 L368.7,357 L367.9,353.7Z" fill="none" stroke="#111" stroke-width="1.5" stroke-linejoin="round"/>
<path d="M443.7,313.8 L447.8,312.1 L451,313.8 L450.2,320.3 L447.8,326.8 L444.5,333.3 L442.1,331.7 L441.3,325.2 L442.1,318.7Z" fill="none" stroke="#111" stroke-width="1.5" stroke-linejoin="round"/>
<line x1="155.2" y1="59.9" x2="155.2" y2="476" stroke="#000" stroke-opacity="0.07" stroke-width="1"/>
<line x1="281.2" y1="59.9" x2="281.2" y2="476" stroke="#000" stroke-opacity="0.07" stroke-width="1"/>
<line x1="407.2" y1="59.9" x2="407.2" y2="476" stroke="#000" stroke-opacity="0.07" stroke-width="1"/>
<line x1="533.2" y1="59.9" x2="533.2" y2="476" stroke="#000" stroke-opacity="0.07" stroke-width="1"/>
<line x1="124.1" y1="111.3" x2="564.4" y2="111.3" stroke="#000" stroke-opacity="0.07" stroke-width="1"/>
<line x1="124.1" y1="277.7" x2="564.4" y2="277.7" stroke="#000" stroke-opacity="0.07" stroke-width="1"/>
<line x1="124.1" y1="412.5" x2="564.4" y2="412.5" stroke="#000" stroke-opacity="0.07" stroke-width="1"/>
</g>
<line x1="123.45" y1="59.9" x2="565.05" y2="59.9" stroke="#8f8f8f" stroke-width="1.5"/>
<line x1="123.45" y1="476" x2="565.05" y2="476" stroke="#8f8f8f" stroke-width="1.5"/>
<line x1="124.1" y1="59.9" x2="124.1" y2="476" stroke="#777" stroke-width="1.3"/>
<line x1="564.4" y1="59.9" x2="564.4" y2="476" stroke="#777" stroke-width="1.3"/>
</g>
<text transform="matrix(1.07,0,0,1,56.26,118.3)" font-size="26.74">50°N</text>
<text transform="matrix(1.06,0,0,1,56.32,285.3)" font-size="26.74">30°N</text>
<text transform="matrix(1.08,0,0,1,55.19,420.2)" font-size="26.74">10°N</text>
<text transform="matrix(1.02,0,0,1,125.67,499.9)" font-size="27.18">75°E</text>
<text transform="matrix(1.02,0,0,1,251.29,499.9)" font-size="27.18">95°E</text>
<text transform="matrix(1.04,0,0,1,368.25,499.9)" font-size="27.18">115°E</text>
<text transform="matrix(1.04,0,0,1,494.35,499.9)" font-size="27.18">135°E</text>
<rect x="586.8" y="78.5" width="22.1" height="38.15" fill="#c41f16"/>
<rect x="586.8" y="116.35" width="22.1" height="38.15" fill="#e42821"/>
<rect x="586.8" y="154.2" width="22.1" height="38.15" fill="#fd5a04"/>
<rect x="586.8" y="192.05" width="22.1" height="38.15" fill="#fd6b38"/>
<rect x="586.8" y="229.9" width="22.1" height="38.15" fill="#fd962f"/>
<rect x="586.8" y="267.75" width="22.1" height="38.15" fill="#fca62f"/>
<rect x="586.8" y="305.6" width="22.1" height="38.15" fill="#fcc42a"/>
<rect x="586.8" y="343.45" width="22.1" height="38.15" fill="#fde264"/>
<rect x="586.8" y="381.3" width="22.1" height="38.15" fill="#fef2c9"/>
<rect x="586.8" y="419.15" width="22.1" height="38.15" fill="#ffffff"/>
<path d="M586.8,78.8 L597.85,59.7 L608.9,78.8 Z" fill="#c41f16"/>
<path d="M586.8,78.5 L597.85,59.7 L608.9,78.5 L608.9,457 L597.85,475.8 L586.8,457 Z" fill="none" stroke="#6a6a6a" stroke-width="1.1"/>
<line x1="608.9" y1="78.6" x2="619.9" y2="78.6" stroke="#333" stroke-width="1.4"/>
<text transform="matrix(1.06,0,0,1,631.62,87.6)" font-size="23.84">0.012</text>
<line x1="608.9" y1="141.67" x2="619.9" y2="141.67" stroke="#333" stroke-width="1.4"/>
<text transform="matrix(1.05,0,0,1,631.62,150.67)" font-size="23.84">0.010</text>
<line x1="608.9" y1="204.74" x2="619.9" y2="204.74" stroke="#333" stroke-width="1.4"/>
<text transform="matrix(1.05,0,0,1,631.62,213.74)" font-size="23.84">0.008</text>
<line x1="608.9" y1="267.81" x2="619.9" y2="267.81" stroke="#333" stroke-width="1.4"/>
<text transform="matrix(1.05,0,0,1,631.62,276.81)" font-size="23.84">0.006</text>
<line x1="608.9" y1="330.88" x2="619.9" y2="330.88" stroke="#333" stroke-width="1.4"/>
<text transform="matrix(1.05,0,0,1,631.63,339.88)" font-size="23.84">0.004</text>
<line x1="608.9" y1="393.95" x2="619.9" y2="393.95" stroke="#333" stroke-width="1.4"/>
<text transform="matrix(1.06,0,0,1,631.62,402.95)" font-size="23.84">0.002</text>
<line x1="608.9" y1="457.02" x2="619.9" y2="457.02" stroke="#333" stroke-width="1.4"/>
<text transform="matrix(1.05,0,0,1,631.62,466.02)" font-size="23.84">0.000</text>
<g>
<clipPath id="clipb"><rect x="774.1" y="59.9" width="440.3" height="416.1"/></clipPath>
<g clip-path="url(#clipb)">
<clipPath id="chinab"><path d="M884.1,119.3 L887.8,122.2 L890.7,126.7 L896.7,129.6 L902.6,134.1 L907,141.5 L906.3,150.4 L908.5,156.3 L915.9,157.8 L923.3,159.3 L929.3,162.2 L933.7,165.2 L936.7,171.1 L939.6,177 L947,178.5 L960.4,178.5 L975.2,180 L980,183.6 L987.8,185.1 L994,186.7 L1003.3,185.1 L1014.2,182 L1023.6,178.9 L1031.3,174.2 L1037.6,169.6 L1038.3,163.3 L1042.2,159.4 L1050,157.1 L1059.3,154 L1065.6,149.3 L1070.2,146.2 L1076.4,143.1 L1085.8,141.6 L1088.1,138.4 L1085.8,133.8 L1079.6,131.4 L1070.2,130.7 L1064.8,131.4 L1063.2,127.6 L1064.8,121.3 L1067.1,115.1 L1069.4,112 L1076.4,113.6 L1082.7,111.2 L1083.4,107.3 L1085.8,102.7 L1088.9,94.9 L1092,90.2 L1093.6,85.6 L1090.4,84 L1093.6,80.9 L1099.8,77.8 L1109.1,76.2 L1116.9,77.8 L1123.1,79.3 L1127.8,82.4 L1130.9,88.7 L1134,96.4 L1137.1,105.8 L1138.7,113.6 L1144.9,116.7 L1152.7,118.2 L1157.3,121.3 L1158.9,132.2 L1166.7,130.7 L1174.4,129.1 L1182.2,128.3 L1181.4,133.8 L1179.1,140 L1176,147.8 L1171.3,157.1 L1166.7,160.2 L1162.8,158.7 L1159.7,161.8 L1159.7,166.4 L1158.1,171.8 L1155.9,177.7 L1152.7,176.1 L1149.5,179.3 L1145.2,182.6 L1140.9,185.8 L1137.7,187.9 L1133.4,186.9 L1130.2,189 L1125.9,193.3 L1120.5,196.5 L1116.2,200.8 L1108.7,204.6 L1104.4,205.6 L1101.1,207.8 L1097.4,210.3 L1099,207.3 L1100.6,204 L1101.1,200.8 L1102.2,196.5 L1101.7,194.4 L1100.1,193.8 L1095.8,194.9 L1092.6,197.1 L1089.3,199.7 L1086.1,203 L1081.8,205.6 L1077.5,207.3 L1074.8,209.4 L1074.3,212.6 L1076.4,214.8 L1079.7,216.4 L1082.4,218.5 L1083.4,222.3 L1085,223.9 L1089.3,223.4 L1093.6,221.8 L1099,221.8 L1104.4,222.3 L1103.8,225.5 L1099,226.6 L1094.7,228.7 L1092,230.9 L1089.9,234.1 L1087.2,236.3 L1084,240 L1086.1,244.9 L1089.3,249.2 L1091.5,253.4 L1094.2,257.7 L1096.9,262 L1098.5,266.3 L1100.2,269.8 L1099.4,276.3 L1098.6,282.8 L1096.1,288.5 L1092.1,294.2 L1088.8,299.1 L1086.4,304 L1084.7,310.5 L1080.7,315.4 L1075.8,319.5 L1069.3,322.7 L1064.4,325.2 L1057.9,328.4 L1053,330.1 L1048.1,332.5 L1043.2,334.1 L1036.7,336.6 L1031.8,337.4 L1028.5,339 L1027.7,341.5 L1026.1,338.2 L1023.6,336.6 L1017.1,335.8 L1010.6,335 L1004.1,331.7 L997.6,326.8 L994.3,326 L987.8,327.6 L990,328.1 L982.7,328.9 L977.8,329.7 L975.3,332.1 L974.5,337 L972.9,337.9 L970.4,336.2 L968,337 L963.9,335.4 L960.7,332.1 L958.2,327.3 L956.6,324 L953.3,320.7 L949.3,319.9 L948.9,315 L950.1,311.8 L953.3,308.5 L955.8,304.4 L956.2,299.6 L954.1,295.5 L951.7,292.2 L948.4,290.2 L946,292.2 L941.9,291.4 L937,290.6 L933.8,292.2 L928.9,295.5 L924,298.7 L919.1,299.6 L913.8,299.6 L912.6,296.3 L910.1,293 L904.4,292.2 L900.4,290.6 L896.3,293 L893.4,297.5 L892.2,293 L888.1,292.2 L880,291.4 L887.8,292.6 L880.4,291.1 L874.4,289.6 L867,286.7 L861.1,282.2 L853.7,279.3 L846.3,276.3 L837.4,271.9 L831.5,268.9 L831.5,264.4 L830,259.3 L834.4,257 L834.4,254.1 L830,249.6 L830,245.2 L825.6,240.7 L821.1,237.8 L816.7,236.3 L812.2,231.9 L807.8,228.9 L804.8,223 L804.1,217 L800.4,212.6 L798.9,208.1 L800.4,200.7 L804.8,199.3 L810.7,197.8 L813.7,194.8 L818.9,191.9 L824.8,188.9 L831.5,185.9 L837.4,184.4 L838.9,180 L841.1,172.6 L840.4,166.7 L838.9,158.5 L846.3,156.3 L853,155.6 L853.7,148.9 L856.7,143 L858.1,138.5 L865.6,139.3 L872.2,137 L873,131.1 L874.4,128.1 L878.9,125.2 L881.1,120.7Z M1018.7,351.3 L1022,348.8 L1026.9,347.2 L1031.8,348 L1032.6,351.3 L1030.1,355.3 L1025.3,358.6 L1021.2,359.4 L1018.7,357 L1017.9,353.7Z M1093.7,313.8 L1097.8,312.1 L1101,313.8 L1100.2,320.3 L1097.8,326.8 L1094.5,333.3 L1092.1,331.7 L1091.3,325.2 L1092.1,318.7Z"/></clipPath>
<g clip-path="url(#chinab)"><rect x="774" y="60" width="441" height="416" fill="#fef1c6"/>
<ellipse cx="879.5" cy="161.5" rx="3.6" ry="4.2" fill="#ffffff" filter="url(#b1)"/>
<ellipse cx="876.7" cy="185.9" rx="3.2" ry="3.4" fill="#ffffff" filter="url(#b1)"/>
<path d="M992,209.8 L1010,198 L1021.6,190 L1031.1,178 L1043,165.9 L1066.7,158 L1078.5,175 L1084.4,195.6 L1090.4,219.3 L1096.3,237 L1102,266.7 L1105,290 L1090,310 L1070,325 L1050,335 L1020,340 L999.1,328 L985,316 L977.8,295 L976,272.6 L988,258 L995.6,243Z" fill="#fde264" filter="url(#b3)"/>
<path d="M995,200 L1010,190 L1025,186 L1035,195 L1022,205 L1005,210Z" fill="#fef1c6" filter="url(#b2)"/>
<path d="M980,266.7 L995.6,258.4 L1016.9,254.8 L1026.4,231.1 L1033.5,215.7 L1043,213.3 L1052.4,231.1 L1066.7,221.6 L1078.5,226.4 L1088,243 L1096.3,260.7 L1101,278.5 L1092,302.2 L1080,320 L1054.8,333 L1031.1,339 L1009.8,335 L999.1,325 L989.6,302.2 L981.3,290.4Z" fill="#fcc52a" filter="url(#b3)"/>
<path d="M1016.9,273.8 L1031.1,264.3 L1048.9,260.7 L1060.7,252.4 L1072.6,254.8 L1084.4,266.7 L1093,278.5 L1091,296.3 L1085,308.1 L1068,322.4 L1043,335 L1019.3,337.6 L1005,329.3 L1005,314.1 L1016.9,296.3Z" fill="#fca62f" filter="url(#b3)"/>
<path d="M1018,282 L1035,275 L1054.8,276 L1072.6,280 L1080,292 L1075,312 L1055,326 L1033.5,336 L1013.3,333 L1005,323.6 L1011,306 L1018,295Z" fill="#fd962f" filter="url(#b3)"/>
<path d="M1021.6,284 L1037,280 L1054.8,281 L1070,286 L1076,296.3 L1070,314.1 L1054.8,325.9 L1033.5,335.4 L1013.3,331.9 L1007,323.6 L1012,308.1 L1021.6,296.3Z" fill="#fd6b38" filter="url(#b3)"/>
<path d="M1038,288 L1050,284 L1064,290 L1066,304 L1058,312 L1046,310 L1040,300Z" fill="#fd5a04" filter="url(#b2)" fill-opacity="0.55"/>
<ellipse cx="1056" cy="296.3" rx="4" ry="5" fill="#e42821" filter="url(#b2)"/>
<ellipse cx="1046.5" cy="326" rx="3.5" ry="4" fill="#e42821" filter="url(#b2)"/>
<ellipse cx="1043" cy="290.4" rx="2.5" ry="2.5" fill="#e42821" filter="url(#b2)"/>
<path d="M1091.5,305 L1110,305 L1110,340 L1091.5,340Z" fill="#fcc52a"/>
<path d="M1012,345.5 L1040,345.5 L1040,365 L1012,365Z" fill="#fcc52a"/></g>
<path d="M990.4,222.1 L996.7,222.1 L1003,219 L1009.3,219 L1010.3,216.9 L1015.5,214.8 L1019.7,212.7 L1023.9,208.5 L1028.1,206.4 L1034.3,203.3 L1039.6,200.1 L1044.8,198.1 L1051,196 L1052.1,189.7 L1055.2,184.5 L1061.5,185.5 L1067.8,184.5 L1070.9,180.3 L1075.1,180.3 L1080.3,184.5 L1083.4,182.4 L1084.5,187.6 L1090.7,184.5 L1097,180.3 L1103.3,177.2 L1109.6,174 L1111.6,168.8 L1109.6,162.5 L1105.4,156.3 L1103.3,150" fill="none" stroke="#3a3a3a" stroke-opacity="0.62" stroke-width="0.9"/>
<path d="M1003,219 L1005.1,223.1 L1004,229.4 L1007.2,233.6 L1006.1,239.9 L1003,244" fill="none" stroke="#3a3a3a" stroke-opacity="0.62" stroke-width="0.9"/>
<path d="M1039.6,200.1 L1034.3,206.4 L1031.2,214.8 L1029.1,223.1 L1028.1,233.6 L1028.1,244 L1030.1,250.3 L1034.3,255.5" fill="none" stroke="#3a3a3a" stroke-opacity="0.62" stroke-width="0.9"/>
<path d="M1052.1,189.7 L1051,197 L1053.1,204.3 L1051,210.6 L1049,216.9 L1047.9,223.1 L1050,229.4 L1047.9,233.6 L1042.7,237.8 L1036.4,240.9 L1029.1,243" fill="none" stroke="#3a3a3a" stroke-opacity="0.62" stroke-width="0.9"/>
<path d="M1061.5,200.1 L1063.6,193.9 L1067.8,192.8 L1071.9,197 L1073,202.2 L1070.9,206.4 L1067.8,208.5 L1064.6,206.4 L1061.5,200.1" fill="none" stroke="#3a3a3a" stroke-opacity="0.62" stroke-width="0.9"/>
<path d="M1074,210.6 L1070.9,216.9 L1065.7,223.1 L1061.5,228.4 L1059.4,233.6 L1057.3,239.9 L1059.4,244 L1063.6,248.2 L1067.8,252.4 L1074,254.5 L1080.3,256.6 L1084.5,260.7" fill="none" stroke="#3a3a3a" stroke-opacity="0.62" stroke-width="0.9"/>
<path d="M1034.3,255.5 L1038.5,258.7 L1044.8,260.7 L1051,262.8 L1057.3,259.7 L1061.5,254.5 L1059.4,250.3 L1059.4,246.1" fill="none" stroke="#3a3a3a" stroke-opacity="0.62" stroke-width="0.9"/>
<path d="M1029.1,243 L1026,249.3 L1023.9,254.5 L1021.8,260.7 L1019.7,267 L1016.6,270.1 L1019.7,274.3 L1023.9,278.5" fill="none" stroke="#3a3a3a" stroke-opacity="0.62" stroke-width="0.9"/>
<path d="M980,244 L986.3,247.2 L992.5,254.5 L998.8,256.6 L1005.1,257.6 L1011.3,259.7 L1015.5,262.8 L1017.6,267" fill="none" stroke="#3a3a3a" stroke-opacity="0.62" stroke-width="0.9"/>
<path d="M1061.5,254.5 L1065.7,258.7 L1071.9,260.7 L1078.2,262.8 L1083.4,266 L1088.7,269.1 L1092.8,271.2" fill="none" stroke="#3a3a3a" stroke-opacity="0.62" stroke-width="0.9"/>
<path d="M938.1,177 L933.7,183 L926.3,187.4 L920.4,191.9 L917.4,197.8 L915.9,203.7 L913,209.6" fill="none" stroke="#3a3a3a" stroke-opacity="0.62" stroke-width="0.9"/>
<path d="M945.6,178.5 L950,187.4 L953,191.9 L960.4,193.3 L963.3,200.7 L967.8,203.7 L973.7,206.7 L981.1,206.7 L990,203.7" fill="none" stroke="#3a3a3a" stroke-opacity="0.62" stroke-width="0.9"/>
<path d="M835.9,239.3 L846.3,236.3 L856.7,233.3 L868.5,230.4 L878.9,230.4 L890.7,228.9 L899.6,227.4 L905.6,223 L907,218.5 L902.6,212.6 L902.6,208.1 L908.5,206.7 L917.4,209.6 L926.3,212.6 L935.2,212.6 L942.6,209.6 L947,206.7 L953,209.6 L960.4,212.6 L967.8,215.6 L975.2,220 L978.1,225.9 L975.2,233.3 L969.3,239.3 L967.8,245.2 L972.2,249.6 L976.7,248.1" fill="none" stroke="#3a3a3a" stroke-opacity="0.62" stroke-width="0.9"/>
<path d="M898.1,230.4 L898.1,237.8 L902.6,248.1 L907,252.6 L914.4,255.6 L923.3,257 L930.7,260 L936.7,263 L941.1,260 L947,249.6 L951.5,248.1 L953,254.1 L954.4,263 L954.4,270.4 L957.4,282.2 L960.4,292.6 L964.8,300 L967.8,310.1" fill="none" stroke="#3a3a3a" stroke-opacity="0.62" stroke-width="0.9"/>
<path d="M960.4,248.1 L967.8,242.2 L975.2,239.3 L978.1,246.7 L982.6,251.1 L990,248.1" fill="none" stroke="#3a3a3a" stroke-opacity="0.62" stroke-width="0.9"/>
<path d="M1097.3,79.6 L1100.6,86.1 L1105.5,92.6 L1110.4,99.1 L1120.2,97.5 L1125,102.4 L1123.4,108.9 L1120.2,118.7 L1118.5,128.4 L1112,133.3 L1107.1,138.2 L1105.5,144.7 L1100.6,151.3 L1102.2,161 L1103.3,162" fill="none" stroke="#3a3a3a" stroke-opacity="0.62" stroke-width="0.9"/>
<path d="M1105.5,144.7 L1107.1,146.4 L1113.6,151.3 L1121.8,154.5 L1129.9,157.8 L1136.5,161 L1143,165.9 L1151.1,167.6 L1157.6,172.5" fill="none" stroke="#3a3a3a" stroke-opacity="0.62" stroke-width="0.9"/>
<path d="M1112,174.1 L1116.9,177.3 L1120.2,185.5 L1123.4,193.6" fill="none" stroke="#3a3a3a" stroke-opacity="0.62" stroke-width="0.9"/>
<path d="M1027.3,240 L1029.1,245.3 L1031.8,251.6 L1034.4,257.8 L1039.8,260.4 L1046.9,262.2 L1050.4,264 L1052.2,266.7 L1057.6,266.7 L1061.1,264.9 L1060.2,260.4 L1057.6,256 L1059.3,250.7 L1061.1,247.1 L1065.6,244.4 L1070,243.6 L1074.4,242.7 L1078.9,241.8" fill="none" stroke="#3a3a3a" stroke-opacity="0.62" stroke-width="0.9"/>
<path d="M1061.1,264.9 L1062.9,270.2 L1063.8,275.6 L1065.6,279.1" fill="none" stroke="#3a3a3a" stroke-opacity="0.62" stroke-width="0.9"/>
<path d="M1022.9,255.1 L1023.8,260.4 L1022.9,266.7 L1025.6,273.8 L1030,277.3 L1034.4,278.2 L1039.8,279.1 L1045.1,280 L1048.7,281.8 L1052.2,283.6 L1057.6,280.9 L1063.8,279.1 L1068.2,278.2 L1072.7,280 L1078,282.7" fill="none" stroke="#3a3a3a" stroke-opacity="0.62" stroke-width="0.9"/>
<path d="M1051.3,283.6 L1051.3,289.8 L1049.6,296.9 L1050.4,302.2 L1052.2,309.3 L1051.3,312.9" fill="none" stroke="#3a3a3a" stroke-opacity="0.62" stroke-width="0.9"/>
<path d="M1078,282.7 L1078.9,289.8 L1075.3,295.1 L1070,298.7 L1067.3,302.2 L1065.6,307.6 L1064.7,312.9 L1062.9,316.4" fill="none" stroke="#3a3a3a" stroke-opacity="0.62" stroke-width="0.9"/>
<path d="M1078.9,289.8 L1084.2,291.6 L1087.8,289.8 L1092.2,288 L1096.7,286.2" fill="none" stroke="#3a3a3a" stroke-opacity="0.62" stroke-width="0.9"/>
<path d="M1078,282.7 L1080.7,277.3 L1083.3,273.8 L1086,270.2 L1084.2,264.9 L1080.7,262.2 L1078.9,257.8 L1082.4,256.9" fill="none" stroke="#3a3a3a" stroke-opacity="0.62" stroke-width="0.9"/>
<path d="M1022.9,304.9 L1027.3,305.8 L1032.7,304.9 L1034.4,309.3 L1038,312.9 L1041.6,312 L1045.1,311.1 L1051.3,312.9 L1057.6,314.7 L1064.7,313.8" fill="none" stroke="#3a3a3a" stroke-opacity="0.62" stroke-width="0.9"/>
<path d="M1038,312.9 L1036.2,318.2 L1033.6,325.3 L1030.9,330.7 L1028.2,336 L1026.4,340" fill="none" stroke="#3a3a3a" stroke-opacity="0.62" stroke-width="0.9"/>
<path d="M1022.9,278.2 L1020.2,284.4 L1021.1,293.3 L1019.3,298.7 L1022.9,304.9" fill="none" stroke="#3a3a3a" stroke-opacity="0.62" stroke-width="0.9"/>
<path d="M1022.9,304.9 L1016.7,307.6 L1011.3,311.1 L1006,312 L1001.6,311.1" fill="none" stroke="#3a3a3a" stroke-opacity="0.62" stroke-width="0.9"/>
<path d="M990,256.9 L995.3,257.8 L1000.7,256 L1005.1,257.8 L1010.4,260.4 L1015.8,262.2 L1019.3,266.7 L1022.9,266.7 L1022.9,278.2" fill="none" stroke="#3a3a3a" stroke-opacity="0.62" stroke-width="0.9"/>
<path d="M1001.6,311.1 L998,304 L996.2,293.3 L997.1,284.4 L998.9,277.3 L996.2,273.8 L992.7,269.3 L990,266.7" fill="none" stroke="#3a3a3a" stroke-opacity="0.62" stroke-width="0.9"/>
<path d="M782.3,60 L783.4,67.2 L788.4,68.9 L790.7,67.8 L793.4,70.6 L797.9,71.1 L797.3,74.4 L800.7,75 L804,73.9 L808.4,71.1 L814,67.8 L818.4,66.1 L817.3,70 L821.8,73.9 L826.2,78.3 L829.6,83.9 L834.6,93.3 L839.6,103.3 L844,98.9 L848.4,103.9 L854,103.3 L860.7,101.7 L866.2,106.7 L870.7,112.2 L873.4,115.6 L879,115.6 L880.7,114.4 L883.4,118.9" fill="none" stroke="#222" stroke-width="1.3" stroke-linejoin="round"/>
<path d="M884,118.9 L888.4,118.3 L896.2,115 L905.1,107.8 L915.1,103.9 L924,105.6" fill="none" stroke="#222" stroke-width="1.3" stroke-linejoin="round"/>
<path d="M839.6,180.6 L834,177.8 L827.3,176.7 L818.4,175.6 L811.8,176.1 L802.9,173.9 L799.6,174.4 L797.3,180 L788.4,177.8 L784,178.9 L780.7,182.2 L777.3,184.4 L774,186.7" fill="none" stroke="#222" stroke-width="1.3" stroke-linejoin="round"/>
<path d="M777.3,184.4 L779.6,187.8 L784,190 L786.2,188.9 L790.7,192.2 L795.1,194.4 L791.8,196.7 L788.4,196.7 L785.1,200" fill="none" stroke="#222" stroke-width="1.3" stroke-linejoin="round"/>
<path d="M774,193.3 L777.3,192.2 L779.6,194.4 L776.2,197.8 L774,198.9" fill="none" stroke="#222" stroke-width="1.3" stroke-linejoin="round"/>
<path d="M920,105 L927.2,106.1 L931.1,111.1 L942.2,111.7 L947.2,113.9 L952.2,110 L952.8,105.6 L951.1,101.1 L953.3,96.7 L957.8,91.3 L964.4,92.8 L972.2,95 L977.8,98.9 L978.9,104.4 L982.2,107.8 L987.8,109.4 L995.6,107.2 L1004.4,107.2 L1008.9,110 L1015.6,115.6 L1025.6,118.9 L1034.4,118.3 L1043.3,116.7 L1047.8,113.3 L1053.3,108.9 L1058.9,110 L1063.3,112.2 L1068.9,111.7 L1073.3,112.2" fill="none" stroke="#222" stroke-width="1.3" stroke-linejoin="round"/>
<path d="M1183.9,60 L1185,63.3 L1192.8,66.7 L1195,72.2 L1198.3,75.6 L1202.8,73.3 L1206.1,70 L1213.9,70" fill="none" stroke="#222" stroke-width="1.3" stroke-linejoin="round"/>
<path d="M774,205 L779.6,203.9 L785.1,206.1 L790.7,205.6 L798.4,203.9 L799,201.7 L804,198.3 L810.7,197.2 L816.2,196.1 L817.3,195" fill="none" stroke="#222" stroke-width="1.3" stroke-linejoin="round"/>
<path d="M774,221.7 L777.3,217.2 L780.7,215 L784,217.2 L785.1,223.9 L790.7,225 L796.2,222.8 L803.4,224.4" fill="none" stroke="#222" stroke-width="1.3" stroke-linejoin="round"/>
<path d="M803.4,224.4 L790.7,226.7 L785.1,230.6 L784,235 L785.1,241.7 L784,246.1 L780.7,248.3 L777.3,249.4 L774,248.3" fill="none" stroke="#222" stroke-width="1.3" stroke-linejoin="round"/>
<path d="M822.9,237.2 L819.6,239.4 L817.3,242.8 L810.7,242.8 L802.9,243.9 L799.6,246.1 L800.7,251.7 L802.9,257.2 L807.3,259.4 L809.6,261.7 L806.2,263.9 L804,268.3 L801.8,273.9 L798.4,279.4 L794,285 L788.4,290.6 L781.8,292.8 L777.3,292.8 L774,295" fill="none" stroke="#222" stroke-width="1.3" stroke-linejoin="round"/>
<path d="M774,301.7 L777.3,303.9 L779.6,308.3 L782.9,315 L780.7,318.3 L776.2,317.2 L774,318.3" fill="none" stroke="#222" stroke-width="1.3" stroke-linejoin="round"/>
<path d="M846.2,277.2 L841.8,279.4 L839.6,282.8 L840.7,286.1 L846.2,289.4 L854,292.8 L860.7,296.1 L868.4,298.3 L876.2,301.7 L885.1,302.8 L889.6,302.2 L890.7,299.4 L890.7,292.8" fill="none" stroke="#222" stroke-width="1.3" stroke-linejoin="round"/>
<path d="M894,293.9 L894,299.4 L899.6,300.6 L912.9,300.6 L911.8,297.2 L907.3,292.8" fill="none" stroke="#222" stroke-width="1.3" stroke-linejoin="round"/>
<path d="M774,339.8 L777.6,342.1 L782.3,343.3 L787,341 L789.4,337.4 L789.4,333.9 L791.8,333.3 L793,339.8 L794.7,342.1 L793,346.9 L794.1,356.4 L795.3,365.9 L798.9,375.3 L803.6,383.6 L807.2,393.1 L809.6,399 L813.1,406.1 L815.5,412.1 L817.9,419.2 L821.4,425.1 L825,423.9 L828.5,419.2 L832.1,416.8 L833.3,412.1 L836.8,410.9 L836.8,403.8 L838,396.7 L839.8,390.7 L839.2,382.4 L839.2,377.7 L842.7,374.7 L847.5,371.8 L852.2,368.2 L857,364.7 L864.1,358.7 L872.4,350.4 L878.3,346.9 L881.9,341" fill="none" stroke="#222" stroke-width="1.3" stroke-linejoin="round"/>
<path d="M839.2,415 L842.7,419.2 L847.5,426.3 L849.9,431 L848.7,434.6 L843.9,438.1 L840.4,438.1 L838,433.4 L836.8,426.3 L836.2,419.8Z" fill="none" stroke="#222" stroke-width="1.3" stroke-linejoin="round"/>
<path d="M774,293.6 L777.6,292.4 L781.1,291.2 L785.9,290" fill="none" stroke="#222" stroke-width="1.3" stroke-linejoin="round"/>
<path d="M774,303 L776.4,304.2 L777.6,310.1 L781.1,313.7 L782.3,317.3 L778.7,318.4 L775.2,319 L774,319" fill="none" stroke="#222" stroke-width="1.3" stroke-linejoin="round"/>
<path d="M774,329.1 L777.6,327.9 L776.4,331.5 L774,332.1" fill="none" stroke="#222" stroke-width="1.3" stroke-linejoin="round"/>
<path d="M1017.1,336.6 L1013.9,338.2 L1007.3,344.7 L1002.4,351.3 L1000.8,357.8 L1004.1,364.3 L1010.6,370.8 L1017.1,377.3 L1020.4,383.9 L1022,393.6 L1020.4,400.1 L1013.9,405 L1007.3,409.9 L1000.8,416.4 L995.9,422.1 L994.3,416.4 L994.3,411.6 L991,409.1 L984.5,406.7 L981.3,401.8 L978,398.5 L971.5,395.3 L966.6,390.4 L964.1,395.3 L961.7,403.4 L958.4,409.9 L957.6,416.4 L960.1,424.6 L966.6,432.7 L971.5,437.6 L976.4,440.9 L981.3,447.4 L986.1,457.2 L989.4,467" fill="none" stroke="#222" stroke-width="1.3" stroke-linejoin="round"/>
<path d="M979.6,330.1 L981.3,338.2 L987.8,344.7 L992.7,349.6 L989.4,353.7 L994.3,359.4 L1002.4,367.6 L1007.3,374.1 L1010.6,382.2 L1010.6,390.4" fill="none" stroke="#222" stroke-width="1.3" stroke-linejoin="round"/>
<path d="M981.3,385.5 L987.8,383.9 L995.9,385.5 L1004.1,383.9 L1010.6,388.7 L1010.6,395.3 L1004.1,401.8 L1000.8,406.7 L994.3,408.3 L987.8,406.7 L981.3,403.4 L978.8,393.6Z" fill="none" stroke="#222" stroke-width="1.3" stroke-linejoin="round"/>
<path d="M934,440.9 L938.9,442.5 L947,444.1 L951.9,447.4 L958.4,453.9 L963.3,460.4 L968.2,467 L971.5,475.9" fill="none" stroke="#222" stroke-width="1.3" stroke-linejoin="round"/>
<path d="M934,440.9 L935.6,445.8 L942.1,452.3 L948.7,460.4 L955.2,468.6 L958.4,475.9" fill="none" stroke="#222" stroke-width="1.3" stroke-linejoin="round"/>
<path d="M955.2,393.6 L956.8,403.4 L954.4,413.2 L955.2,423 L960.1,431.1 L965,436 L968.2,440.9 L974.7,452.3 L981.3,460.4 L987.8,467" fill="none" stroke="#222" stroke-width="1.3" stroke-linejoin="round"/>
<path d="M984.5,357.8 L991,362.7 L994.3,372.4 L997.6,380.6 L995.9,385.5" fill="none" stroke="#222" stroke-width="1.3" stroke-linejoin="round"/>
<path d="M1020.4,475.9 L1022,467 L1026.9,465.3 L1033.4,467 L1039.9,463.7 L1046.4,458.8 L1053,452.3 L1059.5,449 L1066,442.5 L1069.3,434.4 L1075.8,437.6 L1083.9,442.5 L1080.7,447.4 L1077.4,452.3 L1077.4,458.8" fill="none" stroke="#222" stroke-width="1.3" stroke-linejoin="round"/>
<path d="M1077.4,458.8 L1074.6,461.7 L1078.3,466.6 L1082,470.3 L1082,478" fill="none" stroke="#222" stroke-width="1.3" stroke-linejoin="round"/>
<path d="M1052.5,447 L1057.4,444.5 L1059.8,448.2 L1054.9,450.7Z" fill="none" stroke="#222" stroke-width="1.3" stroke-linejoin="round"/>
<path d="M1092,358.3 L1096.7,356.8 L1103,358.3 L1103.8,364.6 L1101.5,372.5 L1099.1,378.8 L1099.9,383.5 L1103,386.7 L1107.8,386.7 L1112.5,389.8 L1114.1,394.5 L1109.3,393 L1104.6,389.8 L1099.9,386.7 L1095.2,385.1 L1093.6,380.4 L1090.5,377.2 L1088.1,372.5 L1089.7,367.8 L1092,363.1Z" fill="none" stroke="#222" stroke-width="1.3" stroke-linejoin="round"/>
<path d="M1092.8,391.4 L1096.7,391.4 L1098.3,396.1 L1095.2,398.5 L1092.8,394.5Z" fill="none" stroke="#222" stroke-width="1.3" stroke-linejoin="round"/>
<path d="M1117.2,397.7 L1121.9,396.1 L1124.3,402.4 L1122.7,405.5 L1118.8,402.4Z" fill="none" stroke="#222" stroke-width="1.3" stroke-linejoin="round"/>
<path d="M1101.5,402.4 L1107.8,403.2 L1109.3,408.7 L1107.8,415 L1104.6,418.1 L1103,413.4 L1102.3,408.7Z" fill="none" stroke="#222" stroke-width="1.3" stroke-linejoin="round"/>
<path d="M1101.5,430.7 L1107.8,426 L1114.1,427.6 L1120.3,421.3 L1125.1,415 L1129.8,422.8 L1129.8,432.3 L1123.5,435.4 L1120.3,440.2 L1117.2,435.4 L1112.5,430.7 L1107.8,429.1 L1103,432.3Z" fill="none" stroke="#222" stroke-width="1.3" stroke-linejoin="round"/>
<path d="M1072.4,422.1 L1077.9,415 L1082.6,410.3 L1085.7,405.5 L1087.3,408.7 L1082.6,415 L1076.3,419.7 L1072.4,422.8Z" fill="none" stroke="#222" stroke-width="1.3" stroke-linejoin="round"/>
<path d="M1090.5,477.9 L1096.7,470 L1106.2,470 L1115.6,468.5 L1121.9,466.1 L1118.8,471.6 L1112.5,474.8" fill="none" stroke="#222" stroke-width="1.3" stroke-linejoin="round"/>
<path d="M1137.7,477.9 L1138.4,466.9 L1140.8,463.8 L1143.9,468.5 L1142.4,477.9" fill="none" stroke="#222" stroke-width="1.3" stroke-linejoin="round"/>
<path d="M893.4,297.5 L894.3,299.6 L900.4,300.8 L906.9,300.4 L913.4,300" fill="none" stroke="#222" stroke-width="1.3" stroke-linejoin="round"/>
<path d="M880,302 L884.9,302.4 L889,301.6 L889.8,296.3 L891,293 L892.2,293" fill="none" stroke="#222" stroke-width="1.3" stroke-linejoin="round"/>
<path d="M889,305.3 L892.2,304.4 L896.3,305.3 L899.6,306.9 L900.4,311 L904.4,311.8 L910.1,312.2 L914.2,312.6 L915,315 L913.4,318.3 L909.3,319.9 L908.5,322.4 L910.1,326.4 L910.1,329.7" fill="none" stroke="#222" stroke-width="1.3" stroke-linejoin="round"/>
<path d="M889,305.3 L890.6,307.7 L893,309.3 L890.6,312.6 L889,315.9 L891.4,319.1 L892.2,323.2 L893,328.9 L894.7,336.2" fill="none" stroke="#222" stroke-width="1.3" stroke-linejoin="round"/>
<path d="M880.8,340.3 L884.9,337 L889,335.4 L892.2,336.2 L896.3,335.4 L901.2,334.6 L904.4,332.1 L905.3,328.1 L906.9,328.9 L910.1,329.7 L912.6,333.8 L914.2,338.7 L915,340.3 L918.3,344.4 L923.2,349.3 L925.6,353.3 L928.1,358.2 L928.9,364.7 L928.1,369.6 L928.1,374.5 L932.1,372.9 L934.6,375.3 L936.2,373.7 L940.3,371.3 L943.6,366.4 L945.2,365.6 L947.6,368 L949.3,373.7 L950.9,381.9 L953.3,390 L955.8,400 L956.8,406.3" fill="none" stroke="#222" stroke-width="1.3" stroke-linejoin="round"/>
<path d="M910.1,329.7 L911,325.6 L914.2,323.2 L915.9,325.6 L916.7,330.5 L917.5,335.4 L919.9,332.1 L921.6,326.4 L922.4,322.4 L925.6,319.9 L928.9,315.9 L930.5,312.6 L932.1,307.7 L933,303.6 L937,300.4 L941.9,297.9 L945.2,297.1 L946,293.9 L948.4,290.6" fill="none" stroke="#222" stroke-width="1.3" stroke-linejoin="round"/>
<path d="M948,358.2 L949.3,361.5 L951.7,365.6 L955,369.6 L956.6,372.1 L955,376.1 L953.3,379.4 L955,384.3 L958.2,389.2 L959.9,394.1 L961.5,400" fill="none" stroke="#222" stroke-width="1.3" stroke-linejoin="round"/>
<path d="M948,358.2 L949.3,353.3 L950.1,349.3 L955,347.6 L958.2,346 L961.5,345.2 L965.6,343.6 L968,341.1 L969.6,337.9" fill="none" stroke="#222" stroke-width="1.3" stroke-linejoin="round"/>
<path d="M965.6,344.4 L967.2,349.3 L969.6,351.7 L970.4,356.6 L969.6,361.5 L970.4,364.7 L974.5,362.3 L977.8,360.7 L981.9,360.7 L984.3,358.2 L990,358.2" fill="none" stroke="#222" stroke-width="1.3" stroke-linejoin="round"/>
<path d="M975.3,332.1 L977.8,333 L981,337 L982.7,340.3 L985.9,341.1 L990,340.3" fill="none" stroke="#222" stroke-width="1.3" stroke-linejoin="round"/>
<path d="M1160.2,160 L1159.7,166.4" fill="none" stroke="#222" stroke-width="1.3" stroke-linejoin="round"/>
<path d="M1155.9,179.3 L1161.3,175 L1164.5,174 L1172,177.2 L1177.4,176.1 L1183.9,171.8 L1189.2,166.4 L1193.5,160 L1198.3,154.4 L1203.9,144.4 L1209.4,135.6 L1215,128.9" fill="none" stroke="#222" stroke-width="1.3" stroke-linejoin="round"/>
<path d="M1116.2,200.8 L1117.3,203 L1120.5,204 L1122.6,207.3 L1121.6,211.6 L1120.5,215.9 L1122.6,219.1 L1125.9,220.2 L1129.1,220.2 L1131.2,222.3 L1130.2,225.5 L1128,227.1 L1129.6,230.9 L1130.2,235.2 L1129.6,239.5 L1130.2,245.9 L1134.4,244.9 L1138.7,242.7 L1143,240.6 L1147.3,238.4 L1149.5,234.1 L1149.5,228.7 L1148.4,223.4 L1146.3,219.1 L1144.1,215.9 L1140.9,212.6 L1137.7,209.4 L1136.6,205.1 L1138.7,201.9 L1144.1,199.7 L1148.4,194.4 L1150.6,189 L1152.7,184.7 L1154.9,181.5 L1155.9,179.3 L1155.9,177.7" fill="none" stroke="#222" stroke-width="1.3" stroke-linejoin="round"/>
<path d="M1125.9,219.6 L1130.2,218 L1136.6,215.9 L1140.9,213.7" fill="none" stroke="#222" stroke-width="1.3" stroke-linejoin="round"/>
<path d="M1157.5,248.1 L1158.1,247 L1162.4,244.9 L1168.8,239.5 L1172,237.3 L1178.5,236.8 L1184.9,235.2 L1188.2,234.1 L1191.4,230.9 L1194.6,226.6 L1195.7,223.4 L1197.8,221.8 L1198.9,224.4 L1197.8,227.1 L1203.2,224.4 L1208.6,220.2 L1212.9,215.9 L1216,210.6" fill="none" stroke="#222" stroke-width="1.3" stroke-linejoin="round"/>
<path d="M1157.5,248.1 L1159.2,249.2 L1166.7,248.1 L1173.1,245.9 L1179.6,244.9 L1183.9,243.8 L1187.1,244.9 L1188.2,249.2 L1189.2,252.4 L1192.4,250.2 L1195.7,244.9 L1198.9,242.7 L1203.2,241.6 L1207.5,240.6 L1211.8,238.4 L1216,237.1" fill="none" stroke="#222" stroke-width="1.3" stroke-linejoin="round"/>
<path d="M1166.7,250.2 L1171,248.1 L1176.3,247 L1180.6,245.9 L1182.8,249.2 L1179.6,252.4 L1175.3,254.5 L1171,257.7 L1168.8,255.6 L1167.2,252.4Z" fill="none" stroke="#222" stroke-width="1.3" stroke-linejoin="round"/>
<path d="M1149.5,254.5 L1153.8,252.4 L1158.1,251.3 L1162.4,252.4 L1163.4,256.7 L1162.4,261 L1160.2,265.3 L1158.1,269.6 L1155.9,270.6 L1153.8,268.5 L1154.9,265.3 L1152.7,261 L1150.6,257.7Z" fill="none" stroke="#222" stroke-width="1.3" stroke-linejoin="round"/>
<path d="M884.1,119.3 L887.8,122.2 L890.7,126.7 L896.7,129.6 L902.6,134.1 L907,141.5 L906.3,150.4 L908.5,156.3 L915.9,157.8 L923.3,159.3 L929.3,162.2 L933.7,165.2 L936.7,171.1 L939.6,177 L947,178.5 L960.4,178.5 L975.2,180 L980,183.6 L987.8,185.1 L994,186.7 L1003.3,185.1 L1014.2,182 L1023.6,178.9 L1031.3,174.2 L1037.6,169.6 L1038.3,163.3 L1042.2,159.4 L1050,157.1 L1059.3,154 L1065.6,149.3 L1070.2,146.2 L1076.4,143.1 L1085.8,141.6 L1088.1,138.4 L1085.8,133.8 L1079.6,131.4 L1070.2,130.7 L1064.8,131.4 L1063.2,127.6 L1064.8,121.3 L1067.1,115.1 L1069.4,112 L1076.4,113.6 L1082.7,111.2 L1083.4,107.3 L1085.8,102.7 L1088.9,94.9 L1092,90.2 L1093.6,85.6 L1090.4,84 L1093.6,80.9 L1099.8,77.8 L1109.1,76.2 L1116.9,77.8 L1123.1,79.3 L1127.8,82.4 L1130.9,88.7 L1134,96.4 L1137.1,105.8 L1138.7,113.6 L1144.9,116.7 L1152.7,118.2 L1157.3,121.3 L1158.9,132.2 L1166.7,130.7 L1174.4,129.1 L1182.2,128.3 L1181.4,133.8 L1179.1,140 L1176,147.8 L1171.3,157.1 L1166.7,160.2 L1162.8,158.7 L1159.7,161.8 L1159.7,166.4 L1158.1,171.8 L1155.9,177.7 L1152.7,176.1 L1149.5,179.3 L1145.2,182.6 L1140.9,185.8 L1137.7,187.9 L1133.4,186.9 L1130.2,189 L1125.9,193.3 L1120.5,196.5 L1116.2,200.8 L1108.7,204.6 L1104.4,205.6 L1101.1,207.8 L1097.4,210.3 L1099,207.3 L1100.6,204 L1101.1,200.8 L1102.2,196.5 L1101.7,194.4 L1100.1,193.8 L1095.8,194.9 L1092.6,197.1 L1089.3,199.7 L1086.1,203 L1081.8,205.6 L1077.5,207.3 L1074.8,209.4 L1074.3,212.6 L1076.4,214.8 L1079.7,216.4 L1082.4,218.5 L1083.4,222.3 L1085,223.9 L1089.3,223.4 L1093.6,221.8 L1099,221.8 L1104.4,222.3 L1103.8,225.5 L1099,226.6 L1094.7,228.7 L1092,230.9 L1089.9,234.1 L1087.2,236.3 L1084,240 L1086.1,244.9 L1089.3,249.2 L1091.5,253.4 L1094.2,257.7 L1096.9,262 L1098.5,266.3 L1100.2,269.8 L1099.4,276.3 L1098.6,282.8 L1096.1,288.5 L1092.1,294.2 L1088.8,299.1 L1086.4,304 L1084.7,310.5 L1080.7,315.4 L1075.8,319.5 L1069.3,322.7 L1064.4,325.2 L1057.9,328.4 L1053,330.1 L1048.1,332.5 L1043.2,334.1 L1036.7,336.6 L1031.8,337.4 L1028.5,339 L1027.7,341.5 L1026.1,338.2 L1023.6,336.6 L1017.1,335.8 L1010.6,335 L1004.1,331.7 L997.6,326.8 L994.3,326 L987.8,327.6 L990,328.1 L982.7,328.9 L977.8,329.7 L975.3,332.1 L974.5,337 L972.9,337.9 L970.4,336.2 L968,337 L963.9,335.4 L960.7,332.1 L958.2,327.3 L956.6,324 L953.3,320.7 L949.3,319.9 L948.9,315 L950.1,311.8 L953.3,308.5 L955.8,304.4 L956.2,299.6 L954.1,295.5 L951.7,292.2 L948.4,290.2 L946,292.2 L941.9,291.4 L937,290.6 L933.8,292.2 L928.9,295.5 L924,298.7 L919.1,299.6 L913.8,299.6 L912.6,296.3 L910.1,293 L904.4,292.2 L900.4,290.6 L896.3,293 L893.4,297.5 L892.2,293 L888.1,292.2 L880,291.4 L887.8,292.6 L880.4,291.1 L874.4,289.6 L867,286.7 L861.1,282.2 L853.7,279.3 L846.3,276.3 L837.4,271.9 L831.5,268.9 L831.5,264.4 L830,259.3 L834.4,257 L834.4,254.1 L830,249.6 L830,245.2 L825.6,240.7 L821.1,237.8 L816.7,236.3 L812.2,231.9 L807.8,228.9 L804.8,223 L804.1,217 L800.4,212.6 L798.9,208.1 L800.4,200.7 L804.8,199.3 L810.7,197.8 L813.7,194.8 L818.9,191.9 L824.8,188.9 L831.5,185.9 L837.4,184.4 L838.9,180 L841.1,172.6 L840.4,166.7 L838.9,158.5 L846.3,156.3 L853,155.6 L853.7,148.9 L856.7,143 L858.1,138.5 L865.6,139.3 L872.2,137 L873,131.1 L874.4,128.1 L878.9,125.2 L881.1,120.7Z" fill="none" stroke="#111" stroke-width="1.5" stroke-linejoin="round"/>
<path d="M1018.7,351.3 L1022,348.8 L1026.9,347.2 L1031.8,348 L1032.6,351.3 L1030.1,355.3 L1025.3,358.6 L1021.2,359.4 L1018.7,357 L1017.9,353.7Z" fill="none" stroke="#111" stroke-width="1.5" stroke-linejoin="round"/>
<path d="M1093.7,313.8 L1097.8,312.1 L1101,313.8 L1100.2,320.3 L1097.8,326.8 L1094.5,333.3 L1092.1,331.7 L1091.3,325.2 L1092.1,318.7Z" fill="none" stroke="#111" stroke-width="1.5" stroke-linejoin="round"/>
<line x1="805.2" y1="59.9" x2="805.2" y2="476" stroke="#000" stroke-opacity="0.07" stroke-width="1"/>
<line x1="931.2" y1="59.9" x2="931.2" y2="476" stroke="#000" stroke-opacity="0.07" stroke-width="1"/>
<line x1="1057.2" y1="59.9" x2="1057.2" y2="476" stroke="#000" stroke-opacity="0.07" stroke-width="1"/>
<line x1="1183.2" y1="59.9" x2="1183.2" y2="476" stroke="#000" stroke-opacity="0.07" stroke-width="1"/>
<line x1="774.1" y1="111.3" x2="1214.4" y2="111.3" stroke="#000" stroke-opacity="0.07" stroke-width="1"/>
<line x1="774.1" y1="277.7" x2="1214.4" y2="277.7" stroke="#000" stroke-opacity="0.07" stroke-width="1"/>
<line x1="774.1" y1="412.5" x2="1214.4" y2="412.5" stroke="#000" stroke-opacity="0.07" stroke-width="1"/>
</g>
<line x1="773.45" y1="59.9" x2="1215.05" y2="59.9" stroke="#8f8f8f" stroke-width="1.5"/>
<line x1="773.45" y1="476" x2="1215.05" y2="476" stroke="#8f8f8f" stroke-width="1.5"/>
<line x1="774.1" y1="59.9" x2="774.1" y2="476" stroke="#777" stroke-width="1.3"/>
<line x1="1214.4" y1="59.9" x2="1214.4" y2="476" stroke="#777" stroke-width="1.3"/>
</g>
<text transform="matrix(1.07,0,0,1,706.26,118.3)" font-size="26.74">50°N</text>
<text transform="matrix(1.06,0,0,1,706.32,285.3)" font-size="26.74">30°N</text>
<text transform="matrix(1.08,0,0,1,705.19,420.2)" font-size="26.74">10°N</text>
<text transform="matrix(1.02,0,0,1,775.67,499.9)" font-size="27.18">75°E</text>
<text transform="matrix(1.02,0,0,1,901.29,499.9)" font-size="27.18">95°E</text>
<text transform="matrix(1.04,0,0,1,1018.25,499.9)" font-size="27.18">115°E</text>
<text transform="matrix(1.04,0,0,1,1144.35,499.9)" font-size="27.18">135°E</text>
<rect x="1236.8" y="78.5" width="22.1" height="38.15" fill="#c41f16"/>
<rect x="1236.8" y="116.35" width="22.1" height="38.15" fill="#e42821"/>
<rect x="1236.8" y="154.2" width="22.1" height="38.15" fill="#fd5a04"/>
<rect x="1236.8" y="192.05" width="22.1" height="38.15" fill="#fd6b38"/>
<rect x="1236.8" y="229.9" width="22.1" height="38.15" fill="#fd962f"/>
<rect x="1236.8" y="267.75" width="22.1" height="38.15" fill="#fca62f"/>
<rect x="1236.8" y="305.6" width="22.1" height="38.15" fill="#fcc42a"/>
<rect x="1236.8" y="343.45" width="22.1" height="38.15" fill="#fde264"/>
<rect x="1236.8" y="381.3" width="22.1" height="38.15" fill="#fef2c9"/>
<rect x="1236.8" y="419.15" width="22.1" height="38.15" fill="#ffffff"/>
<path d="M1236.8,78.8 L1247.85,59.7 L1258.9,78.8 Z" fill="#c41f16"/>
<path d="M1236.8,78.5 L1247.85,59.7 L1258.9,78.5 L1258.9,457 L1247.85,475.8 L1236.8,457 Z" fill="none" stroke="#6a6a6a" stroke-width="1.1"/>
<line x1="1258.9" y1="78.6" x2="1269.9" y2="78.6" stroke="#333" stroke-width="1.4"/>
<text transform="matrix(1.06,0,0,1,1281.62,87.6)" font-size="23.84">0.012</text>
<line x1="1258.9" y1="141.67" x2="1269.9" y2="141.67" stroke="#333" stroke-width="1.4"/>
<text transform="matrix(1.05,0,0,1,1281.62,150.67)" font-size="23.84">0.010</text>
<line x1="1258.9" y1="204.74" x2="1269.9" y2="204.74" stroke="#333" stroke-width="1.4"/>
<text transform="matrix(1.05,0,0,1,1281.62,213.74)" font-size="23.84">0.008</text>
<line x1="1258.9" y1="267.81" x2="1269.9" y2="267.81" stroke="#333" stroke-width="1.4"/>
<text transform="matrix(1.05,0,0,1,1281.62,276.81)" font-size="23.84">0.006</text>
<line x1="1258.9" y1="330.88" x2="1269.9" y2="330.88" stroke="#333" stroke-width="1.4"/>
<text transform="matrix(1.05,0,0,1,1281.63,339.88)" font-size="23.84">0.004</text>
<line x1="1258.9" y1="393.95" x2="1269.9" y2="393.95" stroke="#333" stroke-width="1.4"/>
<text transform="matrix(1.06,0,0,1,1281.62,402.95)" font-size="23.84">0.002</text>
<line x1="1258.9" y1="457.02" x2="1269.9" y2="457.02" stroke="#333" stroke-width="1.4"/>
<text transform="matrix(1.05,0,0,1,1281.62,466.02)" font-size="23.84">0.000</text>
<clipPath id="clipc"><rect x="122.6" y="623" width="1135" height="223.5"/></clipPath>
<line x1="122.6" y1="734.8" x2="1257.6" y2="734.8" stroke="#222" stroke-width="1.6"/>
<path clip-path="url(#clipc)" d="M123.15,799.04 L126.85,730.15 L129.07,734.59 L131.3,802.74 L134.26,804.22 L136.93,807.93 L138.41,724.22 L140.19,725.7 L142.41,743.48 L143.59,710.15 L145.81,749.41 L147.59,744.96 L149.81,716.81 L152.04,731.63 L153.81,716.07 L157.22,734.59 L160.19,813.85 L162.41,789.41 L164.63,789.41 L167.59,800.52 L169.81,734.59 L174.26,703.48 L177.22,728.67 L181.67,770.15 L186.11,745.7 L189.07,768.67 L192.04,799.78 L195.74,810.89 L197.96,793.85 L200.19,797.56 L203.89,770.15 L206.85,766.44 L209.81,807.19 L214.26,838.3 L217.22,820.52 L220.93,773.11 L224.63,776.07 L228.33,806.44 L232.04,801.26 L235,773.11 L237.96,746.44 L242.41,748.67 L246.85,767.19 L251.3,790.89 L254.26,827.19 L257.96,787.93 L260.93,750.89 L263.15,753.85 L266.11,764.22 L270.56,728.67 L272.78,739.04 L275.74,732.37 L279.44,743.48 L282.41,744.96 L285.07,725.7 L288.33,737.56 L292.04,764.96 L294.26,752.37 L296.48,729.41 L300.19,744.96 L303.89,767.19 L307.59,746.44 L310.56,754.59 L312.96,728.67 L315.93,740.52 L320.37,773.85 L322.59,755.33 L324.81,702 L327.04,716.81 L329.26,731.63 L331.48,733.11 L332.22,777.56 L334.44,771.63 L336.67,776.81 L338.89,713.85 L341.85,737.56 L344.81,759.78 L347.04,761.26 L348.81,756.07 L350.74,765.7 L352.96,767.93 L355.19,779.04 L358.15,789.41 L361.11,787.93 L364.07,749.41 L367.04,750.89 L370,747.19 L372.96,756.81 L374.44,770.15 L377.41,756.81 L380.37,784.96 L382.59,790.89 L386.3,798.3 L389.26,755.33 L393.26,728.67 L396.67,747.93 L399.63,777.56 L400.67,809.41 L404.07,799.78 L407.04,744.96 L410,726.44 L412.22,740.52 L414.44,744.96 L416.67,739.04 L419.63,744.96 L421.85,759.78 L424.07,756.81 L426.3,749.41 L428.52,771.63 L430.74,775.33 L433.7,757.56 L435.93,770.15 L438.15,775.33 L440.37,747.93 L443.33,736.81 L445.56,761.26 L447.78,742.74 L450.74,756.07 L453.7,790.15 L456.67,789.41 L459.63,792.37 L463.33,747.93 L467.04,700.52 L470.74,697.56 L474.44,728.67 L478.15,762.74 L481.11,771.63 L484.07,752.37 L487.78,755.33 L490.74,792.37 L494.44,799.04 L497.41,779.04 L501.11,776.07 L503.33,764.22 L507.07,777.56 L508.7,776.81 L511.67,768.67 L515.37,725.7 L517.59,734.59 L519.81,742 L522.04,737.56 L524.26,709.41 L527.96,707.93 L530.93,734.59 L533.15,747.93 L535.37,750.15 L539.07,731.63 L542.78,736.07 L545.74,744.22 L548.7,726.44 L551.67,739.04 L554.63,740.52 L556.85,750.89 L559.07,793.85 L562.04,793.85 L564.26,782 L567.22,747.93 L570.19,744.96 L572.41,767.93 L574.63,731.63 L577.59,739.04 L580.56,743.48 L581.3,760.52 L585,758.3 L587.22,744.96 L590.19,740.52 L593.15,742 L595.67,747.19 L598.33,743.48 L599.81,716.81 L602.78,713.11 L605.74,719.78 L608.7,739.04 L610.93,758.3 L614.63,782 L619.07,781.26 L622.04,784.22 L624.26,804.22 L627.96,784.96 L630.93,767.19 L633.89,733.11 L636.85,697.56 L639.07,696.07 L640.56,698.3 L642.78,678.3 L645,657.56 L648.7,661.26 L650.19,690.15 L650.93,709.41 L653.15,712.37 L655.37,707.93 L657.59,724.22 L659.07,729.41 L661.3,706.44 L663.52,725.7 L665.74,726.44 L667.96,721.26 L670.93,713.11 L673.15,722.74 L676.11,724.22 L678.33,734.59 L681.3,712.37 L682.78,702.74 L685.74,713.85 L688.7,717.56 L689.44,753.85 L692.41,767.19 L694.63,776.81 L697.59,768.67 L700.56,760.52 L703.7,782 L706.67,755.33 L708.89,737.56 L711.85,742 L714.81,744.96 L717.78,749.41 L720.74,768.67 L723.7,722.74 L727.41,716.81 L729.63,731.63 L731.85,734.59 L734.81,730.15 L737.78,758.3 L741.48,764.22 L744.44,747.93 L747.41,743.48 L750.37,731.63 L753.33,733.11 L756,723.48 L758.52,731.63 L760.74,735.33 L762.96,725.7 L765.19,716.81 L768.15,715.33 L769.63,733.11 L771.11,733.11 L773.33,688.67 L775.56,682.74 L778.52,680.52 L780.74,675.33 L783.7,667.19 L785.93,678.3 L788.15,697.56 L791.11,692.37 L793.33,710.89 L795.56,725.7 L797.78,720.52 L800.74,720.52 L802.96,767.19 L805.48,761.26 L807.41,718.3 L810.37,712.37 L812.59,696.07 L814.81,685.7 L817.78,697.56 L819.26,736.07 L822.22,727.19 L824.44,749.41 L826.67,764.22 L829.63,712.37 L833.33,706.44 L836.3,715.33 L840,720.52 L842.96,719.78 L845.19,691.63 L848.15,707.93 L851.11,724.22 L854.81,727.19 L857.78,744.96 L861.48,765.7 L864.44,742.74 L868.15,752.37 L871.11,762 L874.81,736.07 L877.04,721.26 L880.74,710.89 L884.44,724.22 L887.41,724.22 L889.63,718.3 L892.59,710.89 L895.56,725.7 L899.44,735.33 L902.41,710.89 L906.11,677.56 L909.81,680.52 L912.04,699.04 L913.52,716.81 L915.74,710.89 L917.96,702.74 L920.19,713.85 L922.41,724.22 L925.37,733.85 L928.33,719.78 L930.56,716.81 L933.52,717.56 L936.48,728.67 L939.44,724.22 L942.41,724.22 L944.63,749.41 L946.85,764.22 L949.07,768.67 L951.3,750.89 L953.52,721.26 L957.22,728.67 L960.19,744.96 L963.15,733.11 L965.37,713.85 L967.59,709.41 L969.81,699.04 L972.78,716.81 L975,744.96 L977.96,716.81 L981.67,683.48 L984.63,691.63 L988.33,700.52 L991.3,691.63 L993.52,718.3 L996.48,710.89 L997.96,685.7 L1000.19,685.7 L1003.15,667.93 L1005.37,693.11 L1007.59,718.3 L1009.81,724.22 L1012.78,693.85 L1015.74,716.81 L1017.67,727.19 L1020.19,702 L1022.41,690.15 L1024.63,659.04 L1026.85,647.93 L1029.81,651.63 L1034.26,675.33 L1037.96,706.44 L1040.93,737.56 L1044.63,696.07 L1047.59,651.63 L1049.81,624.96 L1052.78,633.85 L1055,643.48 L1057.96,633.85 L1060.93,635.33 L1063.89,663.48 L1067.59,685.7 L1071.3,724.22 L1074.26,713.85 L1077.22,664.96 L1080.19,659.04 L1083.15,633.11 L1086.85,636.81 L1089.07,685.7 L1092.04,689.41 L1095,685.7 L1097.04,691.63 L1099.26,690.15 L1101.48,687.93 L1104.44,702.74 L1106.67,696.07 L1110.37,700.52 L1112.59,703.48 L1115.56,718.3 L1118.52,730.15 L1120.74,738.3 L1123.7,725.7 L1125.93,704.96 L1128.15,673.85 L1130.37,661.26 L1133.33,678.3 L1135.26,708.67 L1137.78,687.19 L1140,673.85 L1142.22,676.81 L1144.44,670.89 L1146.67,694.59 L1149.63,696.07 L1151.85,700.52 L1153.33,675.33 L1156.3,678.3 L1159.26,687.19 L1162.22,704.96 L1163.7,707.19 L1165.93,702 L1168.15,696.81 L1171.11,699.04 L1173.33,703.48 L1174.81,719.78 L1177.04,722.74 L1178.52,725.7 L1180,737.56 L1181.48,730.15 L1183.7,728.67 L1186.67,725.7 L1188.89,737.56 L1190.37,752.37 L1191.85,767.93 L1194.07,750.89 L1196.3,762.74 L1198.52,769.41 L1202.22,765.7 L1203.7,734.89" fill="none" stroke="#6495ed" stroke-width="5.6" stroke-linejoin="round" stroke-linecap="square"/>
<line x1="121.97" y1="623" x2="1258.22" y2="623" stroke="#979797" stroke-width="1.6"/>
<line x1="121.97" y1="846.5" x2="1258.22" y2="846.5" stroke="#979797" stroke-width="1.6"/>
<line x1="122.6" y1="623" x2="122.6" y2="846.5" stroke="#555" stroke-width="1.25"/>
<line x1="1257.6" y1="623" x2="1257.6" y2="846.5" stroke="#555" stroke-width="1.25"/>
<line x1="116.1" y1="655.7" x2="122.6" y2="655.7" stroke="#333" stroke-width="1.4"/>
<text transform="matrix(1.07,0,0,1,64.88,665.5)" font-size="26.74">0.1</text>
<line x1="116.1" y1="734.8" x2="122.6" y2="734.8" stroke="#333" stroke-width="1.4"/>
<text transform="matrix(1.06,0,0,1,64.89,744.6)" font-size="26.74">0.0</text>
<line x1="116.1" y1="813.9" x2="122.6" y2="813.9" stroke="#333" stroke-width="1.4"/>
<text transform="matrix(1.16,0,0,1,43.57,823.7)" font-size="26.74">−0.1</text>
<line x1="122.7" y1="846.5" x2="122.7" y2="853" stroke="#333" stroke-width="1.4"/>
<text transform="matrix(1.09,0,0,1,77.23,884)" font-size="26.74">2013-6</text>
<line x1="339.32" y1="846.5" x2="339.32" y2="853" stroke="#333" stroke-width="1.4"/>
<text transform="matrix(1.09,0,0,1,293.85,884)" font-size="26.74">2013-8</text>
<text transform="matrix(1.08,0,0,1,284.52,912.4)" font-size="26.74">(2014-6)</text>
<line x1="555.94" y1="846.5" x2="555.94" y2="853" stroke="#333" stroke-width="1.4"/>
<text transform="matrix(1.09,0,0,1,510.47,884)" font-size="26.74">2014-8</text>
<text transform="matrix(1.08,0,0,1,501.14,912.4)" font-size="26.74">(2015-6)</text>
<line x1="772.56" y1="846.5" x2="772.56" y2="853" stroke="#333" stroke-width="1.4"/>
<text transform="matrix(1.09,0,0,1,727.09,884)" font-size="26.74">2015-8</text>
<text transform="matrix(1.08,0,0,1,717.76,912.4)" font-size="26.74">(2016-6)</text>
<line x1="989.18" y1="846.5" x2="989.18" y2="853" stroke="#333" stroke-width="1.4"/>
<text transform="matrix(1.09,0,0,1,943.71,884)" font-size="26.74">2016-8</text>
<text transform="matrix(1.08,0,0,1,934.38,912.4)" font-size="26.74">(2017-6)</text>
<line x1="1205.8" y1="846.5" x2="1205.8" y2="853" stroke="#333" stroke-width="1.4"/>
<text transform="matrix(1.09,0,0,1,1160.33,884)" font-size="26.74">2017-8</text>
<text transform="matrix(0,-0.92,1,0,26.1,766.09)" font-size="30.23">PC1</text>
<clipPath id="clipd"><rect x="120.5" y="983" width="1135.2" height="223.6"/></clipPath>
<line x1="120.5" y1="1095" x2="1255.7" y2="1095" stroke="#222" stroke-width="1.6"/>
<path clip-path="url(#clipd)" d="M121.15,1071.63 L123.37,1069.41 L125.59,1047.19 L127.81,1054.59 L130.78,1067.93 L133,1081.26 L135.22,1080.52 L136.7,1093.11 L138.93,1085.7 L141.15,1088.67 L143.37,1100.52 L146.33,1116.81 L149.3,1085.7 L151.52,1107.93 L154.48,1116.81 L156.7,1144.96 L159.22,1156.81 L161.89,1130.15 L164.85,1109.41 L167.81,1090.89 L170.04,1092.37 L173,1088.67 L175.22,1107.93 L178.19,1103.48 L180.41,1085.7 L183.37,1084.22 L185.59,1094.59 L187.81,1107.93 L190.04,1094.59 L192.26,1082.74 L194.48,1067.93 L197.44,1069.41 L200.41,1056.07 L202.63,1051.63 L204.85,1049.41 L207.81,1075.33 L210.04,1115.33 L211.52,1121.26 L213.74,1113.85 L215.96,1136.07 L219.67,1136.81 L221.15,1109.41 L223.37,1104.96 L226.33,1090.15 L228.56,1080.52 L231.52,1084.22 L233.74,1088.67 L235.22,1069.41 L237.44,1067.93 L240.41,1059.04 L243.37,1070.89 L246.33,1071.63 L249.3,1070.89 L252.26,1056.07 L255.22,1062 L257.44,1087.93 L259.67,1073.85 L261.89,1066.44 L264.85,1032.37 L267.81,1041.26 L270.78,1062 L273,1072.37 L275.22,1073.85 L277.44,1099.04 L279.67,1130.15 L281.15,1174.59 L283.37,1174.59 L285.59,1170.15 L286.33,1196.81 L289.3,1187.93 L291.52,1159.78 L294.48,1155.33 L297.44,1165.7 L298.93,1139.04 L301.89,1142 L304.11,1156.81 L305.59,1189.41 L308.26,1195.33 L308.74,1196.07 L311.7,1182 L314.67,1130.15 L317.63,1088.67 L319.85,1094.59 L322.07,1103.48 L323.56,1103.48 L325.78,1144.96 L328.74,1150.89 L331.7,1156.81 L334.67,1181.26 L336.89,1116.07 L339.11,1147.93 L341.33,1119.78 L342.81,1148.67 L345.04,1119.78 L347.26,1119.78 L350.22,1131.63 L353.19,1130.89 L355.41,1130.15 L359.11,1144.22 L362.07,1116.81 L364.3,1072.37 L368,1070.15 L370.22,1104.96 L373.19,1094.59 L375.41,1096.07 L378.37,1110.89 L380.59,1099.04 L385.04,1079.78 L388,1084.22 L390.96,1084.22 L393.93,1100.52 L396.89,1130.15 L399.85,1137.56 L402.81,1078.3 L407.26,1074.59 L409.48,1094.59 L411.7,1090.15 L414.67,1091.63 L417.63,1097.56 L420.59,1103.48 L422.81,1096.07 L426.52,1097.56 L428.74,1092.37 L430.96,1100.52 L434.67,1099.78 L437.63,1109.41 L441.33,1107.93 L445.04,1104.96 L448,1072.37 L452.44,1070.89 L454.67,1076.81 L456.89,1095.33 L459.85,1078.3 L462.81,1084.22 L466.52,1100.52 L468.74,1122.74 L470.96,1156.07 L473.93,1141.26 L477.63,1149.41 L482.07,1151.63 L485.04,1162.74 L488.74,1174.59 L491.7,1164.22 L494.67,1100.52 L497.63,1097.56 L500.59,1118.3 L503.56,1094.59 L505.22,1118.3 L506.7,1100.52 L508.93,1112.37 L511.15,1103.48 L512.63,1090.15 L516.33,1091.63 L518.56,1115.33 L520.78,1123.48 L523,1112.37 L525.22,1079.04 L528.93,1085.7 L531.15,1125.7 L533.37,1133.11 L536.33,1130.89 L539.3,1136.07 L541.52,1139.78 L544.48,1130.15 L547.44,1144.96 L551.15,1158.3 L553.37,1127.19 L556.33,1119.78 L559.3,1122.74 L561.52,1146.44 L563.74,1158.3 L565.96,1150.89 L568.19,1146.44 L571.15,1158.3 L573.37,1173.85 L575.59,1156.81 L577.81,1133.11 L580.78,1131.63 L583.74,1124.22 L585.96,1085.7 L587.44,1079.78 L589.67,1093.11 L592.63,1096.07 L594.85,1091.63 L597.81,1118.3 L600.78,1137.56 L603.74,1164.22 L606.7,1167.19 L608.93,1153.85 L611.15,1110.89 L614.11,1109.41 L616.33,1130.15 L618.56,1121.26 L621.52,1121.26 L623.74,1141.26 L625.96,1124.22 L628.19,1110.89 L631.15,1107.93 L633.37,1130.15 L636.33,1122.74 L638.56,1119.78 L642.26,1090.15 L644.48,1107.93 L646.7,1141.26 L649.67,1143.48 L651.89,1125.7 L655.59,1130.15 L658.56,1126.44 L662.26,1127.93 L664.48,1150.15 L667.44,1115.33 L669.67,1102 L672.63,1107.93 L675.59,1152.37 L678.56,1166.44 L681.52,1130.15 L683,1104.96 L686.7,1102 L689.67,1112.37 L692.63,1130.15 L694.85,1143.48 L698.56,1155.33 L701.7,1150.89 L704.67,1122.74 L706.89,1104.96 L709.85,1094.59 L712.81,1079.78 L715.04,1064.96 L717.26,1033.11 L720.22,1042.74 L723.19,1041.26 L726.15,1060.52 L728.37,1100.52 L730.59,1137.56 L732.81,1143.48 L734.3,1155.33 L736.52,1140.52 L738.74,1119.78 L742.44,1100.52 L744.67,1100.52 L746.15,1130.15 L748.37,1082.74 L750.59,1094.59 L753.56,1100.52 L755.78,1122.74 L758.74,1097.56 L760.96,1100.52 L763.19,1116.07 L765.41,1100.52 L767.63,1078.3 L769.85,1062 L772.81,1059.04 L775.78,1062 L779.48,1080.52 L781.7,1051.63 L783.93,1036.81 L787.63,1037.56 L790.59,1042.74 L793.56,1047.19 L795.78,1076.81 L798,1100.52 L799.48,1115.33 L801.7,1090.15 L803.93,1051.63 L806.89,1056.07 L809.85,1067.93 L812.81,1099.04 L815.78,1121.26 L819.48,1123.48 L821.7,1070.89 L823.93,1062.74 L826.15,1097.56 L828.37,1147.93 L831.33,1119.78 L833.56,1069.41 L836.52,1064.96 L838.74,1064.22 L840.96,1076.81 L843.19,1102 L846.15,1085.7 L847.63,1088.67 L849.11,1066.44 L852.07,1081.26 L855.04,1081.26 L857.26,1090.15 L859.48,1102 L862.44,1064.96 L866.15,1057.56 L869.11,1075.33 L871.33,1085.7 L874.3,1069.41 L876.52,1078.3 L880.22,1093.11 L882.44,1100.52 L886.15,1144.96 L889.11,1122.74 L892.07,1056.07 L895.04,1050.15 L897.44,1045.7 L900.41,1056.07 L904.11,1030.89 L907.81,1007.93 L910.78,1027.93 L913,1053.11 L915.22,1066.44 L918.19,1069.41 L921.89,1072.37 L924.85,1097.56 L927.07,1109.41 L929.3,1104.96 L931.81,1082 L934.48,1085.7 L936.7,1100.52 L939.67,1076.81 L942.63,1059.04 L945.59,1042 L948.56,1039.78 L952.26,1010.15 L955.96,1009.41 L957.44,1050.15 L960.41,1057.56 L962.63,1027.93 L964.85,1056.07 L967.07,1082.74 L970.78,1082.74 L973.74,1047.19 L976.7,1045.7 L979.67,1030.89 L981.89,1013.11 L985.59,1019.04 L986.04,1056.07 L986.33,1097.56 L989.3,1100.52 L993,1085.7 L996.7,1048.67 L998.93,1064.96 L1001.15,1080.52 L1003.37,1059.04 L1005.59,1038.3 L1008.56,1030.15 L1011.52,1035.33 L1013.74,1044.22 L1016.7,1070.89 L1018.93,1107.93 L1020.7,1121.26 L1023.37,1085.7 L1026.33,1056.07 L1029.3,1041.26 L1033,1029.41 L1035.96,1041.26 L1038.19,1048.67 L1039.67,1072.37 L1041.15,1001.26 L1045.59,1001.26 L1048.56,1026.44 L1051.52,1070.89 L1054.48,1104.96 L1056.7,1100.52 L1058.93,1064.96 L1061.15,1097.56 L1061.89,1125.7 L1064.85,1118.3 L1068.56,1122.74 L1072.26,1119.78 L1075.22,1093.11 L1078.19,1062 L1081.15,1053.11 L1085.59,1031.63 L1088.56,1041.26 L1090.04,1069.41 L1093,1070.89 L1094.07,1070.15 L1097.78,1069.41 L1100,1078.3 L1102.22,1085.7 L1105.19,1087.19 L1107.41,1104.96 L1109.63,1113.85 L1111.85,1099.78 L1114.07,1115.33 L1117.04,1136.07 L1120,1124.22 L1122.96,1115.33 L1125.93,1097.56 L1128.15,1060.52 L1131.11,1067.93 L1134.07,1057.56 L1137.78,1050.15 L1140.74,1042.74 L1142.96,1056.07 L1145.93,1053.11 L1148.89,1067.93 L1151.11,1069.41 L1153.04,1035.33 L1155.56,1067.93 L1157.78,1077.56 L1160.74,1056.07 L1162.96,1042.74 L1165.19,1032.37 L1168.15,1038.3 L1170.37,1051.63 L1172.59,1042.74 L1174.81,1038.3 L1177.78,1048.67 L1180,1070.89 L1182.22,1093.11 L1185.19,1064.96 L1188.15,1057.56 L1190.37,1053.11 L1191.85,1064.96 L1194.07,1054.59 L1195.56,1041.26 L1197.04,1038.3 L1198.52,1057.56 L1200,1038.3 L1201.48,1039.04 L1203.7,1038.3" fill="none" stroke="#6495ed" stroke-width="5.6" stroke-linejoin="round" stroke-linecap="square"/>
<line x1="119.88" y1="983" x2="1256.33" y2="983" stroke="#979797" stroke-width="1.6"/>
<line x1="119.88" y1="1206.6" x2="1256.33" y2="1206.6" stroke="#979797" stroke-width="1.6"/>
<line x1="120.5" y1="983" x2="120.5" y2="1206.6" stroke="#555" stroke-width="1.25"/>
<line x1="1255.7" y1="983" x2="1255.7" y2="1206.6" stroke="#555" stroke-width="1.25"/>
<line x1="114" y1="1015.6" x2="120.5" y2="1015.6" stroke="#333" stroke-width="1.4"/>
<text transform="matrix(1.07,0,0,1,62.78,1025.4)" font-size="26.74">0.1</text>
<line x1="114" y1="1095" x2="120.5" y2="1095" stroke="#333" stroke-width="1.4"/>
<text transform="matrix(1.06,0,0,1,62.79,1104.8)" font-size="26.74">0.0</text>
<line x1="114" y1="1174.4" x2="120.5" y2="1174.4" stroke="#333" stroke-width="1.4"/>
<text transform="matrix(1.16,0,0,1,41.47,1184.2)" font-size="26.74">−0.1</text>
<line x1="120.6" y1="1206.6" x2="120.6" y2="1213.1" stroke="#333" stroke-width="1.4"/>
<text transform="matrix(1.09,0,0,1,67.03,1244.1)" font-size="26.74">2013-12</text>
<line x1="337.22" y1="1206.6" x2="337.22" y2="1213.1" stroke="#333" stroke-width="1.4"/>
<text transform="matrix(1.08,0,0,1,292.22,1244.1)" font-size="26.74">2014-2</text>
<text transform="matrix(1.1,0,0,1,273.65,1272.5)" font-size="26.74">(2014-12)</text>
<line x1="553.84" y1="1206.6" x2="553.84" y2="1213.1" stroke="#333" stroke-width="1.4"/>
<text transform="matrix(1.08,0,0,1,508.84,1244.1)" font-size="26.74">2015-2</text>
<text transform="matrix(1.1,0,0,1,490.27,1272.5)" font-size="26.74">(2015-12)</text>
<line x1="770.46" y1="1206.6" x2="770.46" y2="1213.1" stroke="#333" stroke-width="1.4"/>
<text transform="matrix(1.08,0,0,1,725.46,1244.1)" font-size="26.74">2016-2</text>
<text transform="matrix(1.1,0,0,1,706.89,1272.5)" font-size="26.74">(2016-12)</text>
<line x1="987.08" y1="1206.6" x2="987.08" y2="1213.1" stroke="#333" stroke-width="1.4"/>
<text transform="matrix(1.08,0,0,1,942.08,1244.1)" font-size="26.74">2017-2</text>
<text transform="matrix(1.1,0,0,1,923.51,1272.5)" font-size="26.74">(2017-12)</text>
<line x1="1203.7" y1="1206.6" x2="1203.7" y2="1213.1" stroke="#333" stroke-width="1.4"/>
<text transform="matrix(1.08,0,0,1,1158.7,1244.1)" font-size="26.74">2018-2</text>
<text transform="matrix(0,-0.92,1,0,25.1,1125.89)" font-size="30.23">PC1</text>
<clipPath id="clipe"><rect x="120.5" y="1408.6" width="485" height="328.9"/></clipPath>
<g clip-path="url(#clipe)">
<path d="M140,1737.5 L180,1737 L224.4,1733.8 L252.9,1731.1 L312.4,1703.6 L355.1,1702.3 L380,1701.3 L432.4,1697.8 L492,1709.3 L552.4,1733.3 L552.4,1737.5Z" fill="#ff0000" fill-opacity="0.5"/>
<path d="M150,1737.5 L180,1736.5 L197.8,1732.9 L220.9,1721.3 L240.4,1703.6 L260,1680.4 L278.7,1662.1 L298.2,1657 L317.8,1667.5 L334.7,1683.1 L354.2,1701.2 L375.6,1717.8 L396,1728 L415.6,1733.3 L451,1736.9 L500,1737.5Z" fill="#0000ff" fill-opacity="0.5"/>
<path d="M146.2,1737.5 L152.1,1723.2 L157.3,1649.5 L161.3,1575.8 L165,1520.6 L170.5,1426.6 L176.1,1425.1 L179.8,1474.5 L185.3,1539 L190.8,1603.5 L195.4,1649.5 L200,1677.2 L205.5,1701.1 L212.9,1723.2 L222.1,1734.3 L229.5,1737.5Z" fill="#008000" fill-opacity="0.5"/>
</g>
<line x1="395.5" y1="1408.6" x2="395.5" y2="1737.5" stroke="#000" stroke-width="1.7" stroke-dasharray="6.2,2.7"/>
<line x1="119.88" y1="1408.6" x2="606.12" y2="1408.6" stroke="#979797" stroke-width="1.6"/>
<line x1="119.88" y1="1737.5" x2="606.12" y2="1737.5" stroke="#979797" stroke-width="1.6"/>
<line x1="120.5" y1="1408.6" x2="120.5" y2="1737.5" stroke="#555" stroke-width="1.25"/>
<line x1="605.5" y1="1408.6" x2="605.5" y2="1737.5" stroke="#555" stroke-width="1.25"/>
<line x1="114" y1="1737.6" x2="120.5" y2="1737.6" stroke="#333" stroke-width="1.4"/>
<text transform="matrix(1.03,0,0,1,86.72,1746.9)" font-size="26.74">0</text>
<line x1="114" y1="1674.36" x2="120.5" y2="1674.36" stroke="#333" stroke-width="1.4"/>
<text transform="matrix(1.04,0,0,1,86.69,1683.66)" font-size="26.74">5</text>
<line x1="114" y1="1611.12" x2="120.5" y2="1611.12" stroke="#333" stroke-width="1.4"/>
<text transform="matrix(1.08,0,0,1,70,1620.42)" font-size="26.74">10</text>
<line x1="114" y1="1547.88" x2="120.5" y2="1547.88" stroke="#333" stroke-width="1.4"/>
<text transform="matrix(1.08,0,0,1,69.99,1557.18)" font-size="26.74">15</text>
<line x1="114" y1="1484.64" x2="120.5" y2="1484.64" stroke="#333" stroke-width="1.4"/>
<text transform="matrix(1.05,0,0,1,70.78,1493.94)" font-size="26.74">20</text>
<line x1="114" y1="1421.4" x2="120.5" y2="1421.4" stroke="#333" stroke-width="1.4"/>
<text transform="matrix(1.06,0,0,1,70.78,1430.7)" font-size="26.74">25</text>
<line x1="215.4" y1="1737.5" x2="215.4" y2="1744" stroke="#333" stroke-width="1.4"/>
<text transform="matrix(1.14,0,0,1,195.07,1774.3)" font-size="25.44">0.2</text>
<line x1="358.4" y1="1737.5" x2="358.4" y2="1744" stroke="#333" stroke-width="1.4"/>
<text transform="matrix(1.12,0,0,1,338.09,1774.3)" font-size="25.44">0.4</text>
<line x1="501.4" y1="1737.5" x2="501.4" y2="1744" stroke="#333" stroke-width="1.4"/>
<text transform="matrix(1.13,0,0,1,481.08,1774.3)" font-size="25.44">0.6</text>
<text transform="matrix(1.09,0,0,1,203.33,1814.2)" font-size="30.23">Correlation coefficient</text>
<text transform="matrix(0,-0.92,1,0,53.7,1604.15)" font-size="29.94">PDF</text>
<rect x="438.5" y="1419.9" width="155.6" height="105.6" rx="5" fill="#fff" fill-opacity="0.8" stroke="#d0d0d0" stroke-width="2.3"/>
<rect x="447.6" y="1430.3" width="44.4" height="15.2" fill="#ff0000" fill-opacity="0.5"/>
<text transform="matrix(0.97,0,0,1,510.07,1446)" font-size="24.27">Real</text>
<rect x="447.6" y="1463.3" width="44.4" height="15.2" fill="#0000ff" fill-opacity="0.5"/>
<text transform="matrix(0.98,0,0,1,510.1,1479)" font-size="23.69">MANM</text>
<rect x="447.6" y="1496.7" width="44.4" height="15.2" fill="#008000" fill-opacity="0.5"/>
<text transform="matrix(0.99,0,0,1,511.5,1512)" font-size="23.26">WNNM</text>
<clipPath id="clipf"><rect x="770.7" y="1408.6" width="484.9" height="328.9"/></clipPath>
<g clip-path="url(#clipf)">
<path d="M790,1737.5 L840,1737 L875.6,1733.8 L898.7,1732 L958.2,1715.1 L1018.7,1682.8 L1040,1685.3 L1078.2,1689.4 L1138.7,1705.8 L1198.2,1734.2 L1198.2,1737.5Z" fill="#ff0000" fill-opacity="0.5"/>
<path d="M800,1737.5 L840,1736.5 L856,1732.9 L878.2,1721.3 L901.3,1703.6 L923.6,1679.6 L944,1662.1 L964.4,1657 L985.8,1667.1 L1007.1,1685.8 L1028.4,1703.6 L1050.7,1717.8 L1068.4,1727.1 L1093.3,1733.3 L1128.9,1736.9 L1170,1737.5Z" fill="#0000ff" fill-opacity="0.5"/>
<path d="M796.6,1737.5 L803,1723.2 L807.6,1668 L813.2,1594.3 L817.8,1520.6 L823.7,1426.6 L829.8,1425.1 L834.4,1474.5 L839,1539 L844.5,1603.5 L850,1649.5 L855.5,1677.2 L861.1,1697.5 L868.4,1719.6 L877.7,1732.5 L886.9,1737.5Z" fill="#008000" fill-opacity="0.5"/>
</g>
<line x1="1071.5" y1="1408.6" x2="1071.5" y2="1737.5" stroke="#000" stroke-width="1.7" stroke-dasharray="6.2,2.7"/>
<line x1="770.08" y1="1408.6" x2="1256.22" y2="1408.6" stroke="#979797" stroke-width="1.6"/>
<line x1="770.08" y1="1737.5" x2="1256.22" y2="1737.5" stroke="#979797" stroke-width="1.6"/>
<line x1="770.7" y1="1408.6" x2="770.7" y2="1737.5" stroke="#555" stroke-width="1.25"/>
<line x1="1255.6" y1="1408.6" x2="1255.6" y2="1737.5" stroke="#555" stroke-width="1.25"/>
<line x1="764.2" y1="1737.6" x2="770.7" y2="1737.6" stroke="#333" stroke-width="1.4"/>
<text transform="matrix(1.03,0,0,1,736.92,1746.9)" font-size="26.74">0</text>
<line x1="764.2" y1="1674.36" x2="770.7" y2="1674.36" stroke="#333" stroke-width="1.4"/>
<text transform="matrix(1.04,0,0,1,736.89,1683.66)" font-size="26.74">5</text>
<line x1="764.2" y1="1611.12" x2="770.7" y2="1611.12" stroke="#333" stroke-width="1.4"/>
<text transform="matrix(1.08,0,0,1,720.2,1620.42)" font-size="26.74">10</text>
<line x1="764.2" y1="1547.88" x2="770.7" y2="1547.88" stroke="#333" stroke-width="1.4"/>
<text transform="matrix(1.08,0,0,1,720.19,1557.18)" font-size="26.74">15</text>
<line x1="764.2" y1="1484.64" x2="770.7" y2="1484.64" stroke="#333" stroke-width="1.4"/>
<text transform="matrix(1.05,0,0,1,720.98,1493.94)" font-size="26.74">20</text>
<line x1="764.2" y1="1421.4" x2="770.7" y2="1421.4" stroke="#333" stroke-width="1.4"/>
<text transform="matrix(1.06,0,0,1,720.98,1430.7)" font-size="26.74">25</text>
<line x1="872.9" y1="1737.5" x2="872.9" y2="1744" stroke="#333" stroke-width="1.4"/>
<text transform="matrix(1.14,0,0,1,852.57,1774.3)" font-size="25.44">0.2</text>
<line x1="1031.4" y1="1737.5" x2="1031.4" y2="1744" stroke="#333" stroke-width="1.4"/>
<text transform="matrix(1.12,0,0,1,1011.09,1774.3)" font-size="25.44">0.4</text>
<line x1="1189.9" y1="1737.5" x2="1189.9" y2="1744" stroke="#333" stroke-width="1.4"/>
<text transform="matrix(1.13,0,0,1,1169.58,1774.3)" font-size="25.44">0.6</text>
<text transform="matrix(1.09,0,0,1,853.48,1814.2)" font-size="30.23">Correlation coefficient</text>
<text transform="matrix(1.07,0,0,1,653.64,1312.3)" font-size="30.24">Date</text>
</svg></body></html>
